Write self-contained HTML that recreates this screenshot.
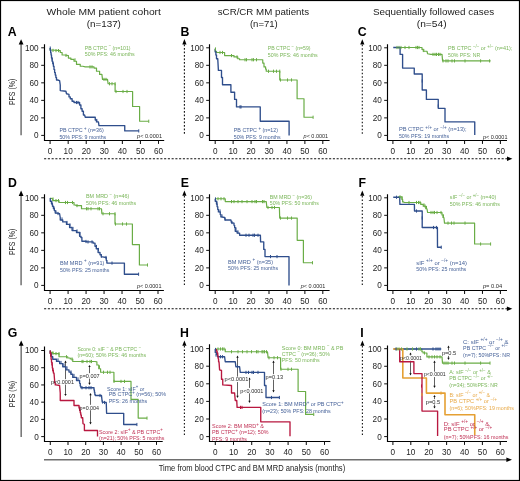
<!DOCTYPE html>
<html><head><meta charset="utf-8"><style>
html,body{margin:0;padding:0;background:#fff;}
svg{display:block;font-family:"Liberation Sans", sans-serif;will-change:transform;}
</style></head><body>
<svg width="520" height="481" viewBox="0 0 520 481">
<rect x="0.5" y="0.5" width="519" height="480" fill="#fff" stroke="#000" stroke-width="1.2"/>
<text x="103.7" y="15.1" font-size="9.5" fill="#222" text-anchor="middle" textLength="114.4" lengthAdjust="spacingAndGlyphs">Whole MM patient cohort</text>
<text x="103.8" y="27" font-size="9.5" fill="#222" text-anchor="middle" textLength="34.2" lengthAdjust="spacingAndGlyphs">(n=137)</text>
<text x="263.4" y="15.1" font-size="9.5" fill="#222" text-anchor="middle" textLength="91.3" lengthAdjust="spacingAndGlyphs">sCR/CR MM patients</text>
<text x="263.85" y="27" font-size="9.5" fill="#222" text-anchor="middle" textLength="27.9" lengthAdjust="spacingAndGlyphs">(n=71)</text>
<text x="433.5" y="15.1" font-size="9.5" fill="#222" text-anchor="middle" textLength="121.2" lengthAdjust="spacingAndGlyphs">Sequentially followed cases</text>
<text x="431.7" y="27" font-size="9.5" fill="#222" text-anchor="middle" textLength="29.8" lengthAdjust="spacingAndGlyphs">(n=54)</text>
<text x="7.8" y="35.8" font-size="12.3" fill="#000" font-weight="bold">A</text>
<text x="180.39" y="35.8" font-size="12.3" fill="#000" font-weight="bold">B</text>
<text x="357.8" y="36.2" font-size="12.3" fill="#000" font-weight="bold">C</text>
<text x="7.89" y="186.9" font-size="12.3" fill="#000" font-weight="bold">D</text>
<text x="180.69" y="186.9" font-size="12.3" fill="#000" font-weight="bold">E</text>
<text x="358.39" y="186.9" font-size="12.3" fill="#000" font-weight="bold">F</text>
<text x="7.8" y="337" font-size="12.3" fill="#000" font-weight="bold">G</text>
<text x="179.99" y="336.8" font-size="12.3" fill="#000" font-weight="bold">H</text>
<text x="360.19" y="336.6" font-size="12.3" fill="#000" font-weight="bold">I</text>
<line x1="21.1" y1="43.2" x2="21.1" y2="135.2" stroke="#7a7a7a" stroke-width="1.6"/>
<path d="M21.1,39.2 L18.7,44.6 L23.5,44.6 Z" fill="#000"/>
<line x1="21.1" y1="194.6" x2="21.1" y2="285.2" stroke="#7a7a7a" stroke-width="1.6"/>
<path d="M21.1,190.6 L18.7,196 L23.5,196 Z" fill="#000"/>
<line x1="21.2" y1="344.4" x2="21.2" y2="437" stroke="#7a7a7a" stroke-width="1.6"/>
<path d="M21.2,340.4 L18.8,345.8 L23.6,345.8 Z" fill="#000"/>
<line x1="184.4" y1="44.6" x2="184.4" y2="135.5" stroke="#111" stroke-width="1.1" stroke-dasharray="1.6 1.9"/>
<path d="M184.4,39.1 L182.3,44.5 L186.5,44.5 Z" fill="#000"/>
<line x1="184.4" y1="195.9" x2="184.4" y2="285.5" stroke="#111" stroke-width="1.1" stroke-dasharray="1.6 1.9"/>
<path d="M184.4,190.4 L182.3,195.8 L186.5,195.8 Z" fill="#000"/>
<line x1="184.4" y1="345.9" x2="184.4" y2="437" stroke="#111" stroke-width="1.1" stroke-dasharray="1.6 1.9"/>
<path d="M184.4,340.4 L182.3,345.8 L186.5,345.8 Z" fill="#000"/>
<line x1="362.3" y1="44.7" x2="362.3" y2="135.5" stroke="#111" stroke-width="1.1" stroke-dasharray="1.6 1.9"/>
<path d="M362.3,39.2 L360.2,44.6 L364.4,44.6 Z" fill="#000"/>
<line x1="362.3" y1="195.9" x2="362.3" y2="285.5" stroke="#111" stroke-width="1.1" stroke-dasharray="1.6 1.9"/>
<path d="M362.3,190.4 L360.2,195.8 L364.4,195.8 Z" fill="#000"/>
<line x1="362.4" y1="345.9" x2="362.4" y2="437" stroke="#111" stroke-width="1.1" stroke-dasharray="1.6 1.9"/>
<path d="M362.4,340.4 L360.3,345.8 L364.5,345.8 Z" fill="#000"/>
<text x="0" y="0" font-size="9.6" fill="#1e1e1e" text-anchor="middle" textLength="26.3" lengthAdjust="spacingAndGlyphs" transform="translate(15.4,91.9) rotate(-90)">PFS (%)</text>
<text x="0" y="0" font-size="9.6" fill="#1e1e1e" text-anchor="middle" textLength="26.3" lengthAdjust="spacingAndGlyphs" transform="translate(15.4,241.9) rotate(-90)">PFS (%)</text>
<text x="0" y="0" font-size="9.6" fill="#1e1e1e" text-anchor="middle" textLength="26.3" lengthAdjust="spacingAndGlyphs" transform="translate(15.4,394) rotate(-90)">PFS (%)</text>
<line x1="44.1" y1="158.75" x2="507.4" y2="158.75" stroke="#111" stroke-width="1.1" stroke-dasharray="2.1 1.65"/>
<path d="M512.4,158.75 L507,156.55 L507,160.95 Z" fill="#000"/>
<line x1="44.1" y1="308.7" x2="507.3" y2="308.7" stroke="#111" stroke-width="1.1" stroke-dasharray="2.1 1.65"/>
<path d="M512.3,308.7 L506.9,306.5 L506.9,310.9 Z" fill="#000"/>
<line x1="44" y1="459.8" x2="507" y2="459.8" stroke="#6e6e6e" stroke-width="1.6"/>
<path d="M512,459.8 L506.4,457.5 L506.4,462.1 Z" fill="#000"/>
<text x="158.7" y="471.3" font-size="9.3" fill="#222" textLength="186.5" lengthAdjust="spacingAndGlyphs">Time from blood CTPC and BM MRD analysis (months)</text>
<path d="M44.5,44.2 V140.5 H164.2" fill="none" stroke="#000" stroke-width="1.15"/>
<line x1="41.2" y1="135.4" x2="44.5" y2="135.4" stroke="#111" stroke-width="1"/>
<text x="38.6" y="138.3" font-size="8.2" fill="#1e1e1e" text-anchor="end">0</text>
<line x1="41.2" y1="117.88" x2="44.5" y2="117.88" stroke="#111" stroke-width="1"/>
<text x="38.6" y="120.78" font-size="8.2" fill="#1e1e1e" text-anchor="end">20</text>
<line x1="41.2" y1="100.36" x2="44.5" y2="100.36" stroke="#111" stroke-width="1"/>
<text x="38.6" y="103.26" font-size="8.2" fill="#1e1e1e" text-anchor="end">40</text>
<line x1="41.2" y1="82.84" x2="44.5" y2="82.84" stroke="#111" stroke-width="1"/>
<text x="38.6" y="85.74" font-size="8.2" fill="#1e1e1e" text-anchor="end">60</text>
<line x1="41.2" y1="65.32" x2="44.5" y2="65.32" stroke="#111" stroke-width="1"/>
<text x="38.6" y="68.22" font-size="8.2" fill="#1e1e1e" text-anchor="end">80</text>
<line x1="41.2" y1="47.8" x2="44.5" y2="47.8" stroke="#111" stroke-width="1"/>
<text x="38.6" y="50.7" font-size="8.2" fill="#1e1e1e" text-anchor="end">100</text>
<line x1="50.1" y1="140.5" x2="50.1" y2="143.9" stroke="#111" stroke-width="1.05"/>
<text x="50.1" y="153.9" font-size="8.2" fill="#1e1e1e" text-anchor="middle">0</text>
<line x1="68.17" y1="140.5" x2="68.17" y2="143.9" stroke="#111" stroke-width="1.05"/>
<text x="68.17" y="153.9" font-size="8.2" fill="#1e1e1e" text-anchor="middle">10</text>
<line x1="86.23" y1="140.5" x2="86.23" y2="143.9" stroke="#111" stroke-width="1.05"/>
<text x="86.23" y="153.9" font-size="8.2" fill="#1e1e1e" text-anchor="middle">20</text>
<line x1="104.3" y1="140.5" x2="104.3" y2="143.9" stroke="#111" stroke-width="1.05"/>
<text x="104.3" y="153.9" font-size="8.2" fill="#1e1e1e" text-anchor="middle">30</text>
<line x1="122.37" y1="140.5" x2="122.37" y2="143.9" stroke="#111" stroke-width="1.05"/>
<text x="122.37" y="153.9" font-size="8.2" fill="#1e1e1e" text-anchor="middle">40</text>
<line x1="140.43" y1="140.5" x2="140.43" y2="143.9" stroke="#111" stroke-width="1.05"/>
<text x="140.43" y="153.9" font-size="8.2" fill="#1e1e1e" text-anchor="middle">50</text>
<line x1="158.5" y1="140.5" x2="158.5" y2="143.9" stroke="#111" stroke-width="1.05"/>
<text x="158.5" y="153.9" font-size="8.2" fill="#1e1e1e" text-anchor="middle">60</text>
<path d="M209.5,44.2 V140.5 H329.6" fill="none" stroke="#000" stroke-width="1.15"/>
<line x1="206.2" y1="135.4" x2="209.5" y2="135.4" stroke="#111" stroke-width="1"/>
<text x="203.8" y="138.3" font-size="8.2" fill="#1e1e1e" text-anchor="end">0</text>
<line x1="206.2" y1="117.88" x2="209.5" y2="117.88" stroke="#111" stroke-width="1"/>
<text x="203.8" y="120.78" font-size="8.2" fill="#1e1e1e" text-anchor="end">20</text>
<line x1="206.2" y1="100.36" x2="209.5" y2="100.36" stroke="#111" stroke-width="1"/>
<text x="203.8" y="103.26" font-size="8.2" fill="#1e1e1e" text-anchor="end">40</text>
<line x1="206.2" y1="82.84" x2="209.5" y2="82.84" stroke="#111" stroke-width="1"/>
<text x="203.8" y="85.74" font-size="8.2" fill="#1e1e1e" text-anchor="end">60</text>
<line x1="206.2" y1="65.32" x2="209.5" y2="65.32" stroke="#111" stroke-width="1"/>
<text x="203.8" y="68.22" font-size="8.2" fill="#1e1e1e" text-anchor="end">80</text>
<line x1="206.2" y1="47.8" x2="209.5" y2="47.8" stroke="#111" stroke-width="1"/>
<text x="203.8" y="50.7" font-size="8.2" fill="#1e1e1e" text-anchor="end">100</text>
<line x1="215.2" y1="140.5" x2="215.2" y2="143.9" stroke="#111" stroke-width="1.05"/>
<text x="215.2" y="153.9" font-size="8.2" fill="#1e1e1e" text-anchor="middle">0</text>
<line x1="233.13" y1="140.5" x2="233.13" y2="143.9" stroke="#111" stroke-width="1.05"/>
<text x="233.13" y="153.9" font-size="8.2" fill="#1e1e1e" text-anchor="middle">10</text>
<line x1="251.07" y1="140.5" x2="251.07" y2="143.9" stroke="#111" stroke-width="1.05"/>
<text x="251.07" y="153.9" font-size="8.2" fill="#1e1e1e" text-anchor="middle">20</text>
<line x1="269" y1="140.5" x2="269" y2="143.9" stroke="#111" stroke-width="1.05"/>
<text x="269" y="153.9" font-size="8.2" fill="#1e1e1e" text-anchor="middle">30</text>
<line x1="286.93" y1="140.5" x2="286.93" y2="143.9" stroke="#111" stroke-width="1.05"/>
<text x="286.93" y="153.9" font-size="8.2" fill="#1e1e1e" text-anchor="middle">40</text>
<line x1="304.87" y1="140.5" x2="304.87" y2="143.9" stroke="#111" stroke-width="1.05"/>
<text x="304.87" y="153.9" font-size="8.2" fill="#1e1e1e" text-anchor="middle">50</text>
<line x1="322.8" y1="140.5" x2="322.8" y2="143.9" stroke="#111" stroke-width="1.05"/>
<text x="322.8" y="153.9" font-size="8.2" fill="#1e1e1e" text-anchor="middle">60</text>
<path d="M387.5,44.2 V140.5 H507" fill="none" stroke="#000" stroke-width="1.15"/>
<line x1="384.2" y1="135.4" x2="387.5" y2="135.4" stroke="#111" stroke-width="1"/>
<text x="381.9" y="138.3" font-size="8.2" fill="#1e1e1e" text-anchor="end">0</text>
<line x1="384.2" y1="117.88" x2="387.5" y2="117.88" stroke="#111" stroke-width="1"/>
<text x="381.9" y="120.78" font-size="8.2" fill="#1e1e1e" text-anchor="end">20</text>
<line x1="384.2" y1="100.36" x2="387.5" y2="100.36" stroke="#111" stroke-width="1"/>
<text x="381.9" y="103.26" font-size="8.2" fill="#1e1e1e" text-anchor="end">40</text>
<line x1="384.2" y1="82.84" x2="387.5" y2="82.84" stroke="#111" stroke-width="1"/>
<text x="381.9" y="85.74" font-size="8.2" fill="#1e1e1e" text-anchor="end">60</text>
<line x1="384.2" y1="65.32" x2="387.5" y2="65.32" stroke="#111" stroke-width="1"/>
<text x="381.9" y="68.22" font-size="8.2" fill="#1e1e1e" text-anchor="end">80</text>
<line x1="384.2" y1="47.8" x2="387.5" y2="47.8" stroke="#111" stroke-width="1"/>
<text x="381.9" y="50.7" font-size="8.2" fill="#1e1e1e" text-anchor="end">100</text>
<line x1="392.9" y1="140.5" x2="392.9" y2="143.9" stroke="#111" stroke-width="1.05"/>
<text x="392.9" y="153.9" font-size="8.2" fill="#1e1e1e" text-anchor="middle">0</text>
<line x1="410.82" y1="140.5" x2="410.82" y2="143.9" stroke="#111" stroke-width="1.05"/>
<text x="410.82" y="153.9" font-size="8.2" fill="#1e1e1e" text-anchor="middle">10</text>
<line x1="428.73" y1="140.5" x2="428.73" y2="143.9" stroke="#111" stroke-width="1.05"/>
<text x="428.73" y="153.9" font-size="8.2" fill="#1e1e1e" text-anchor="middle">20</text>
<line x1="446.65" y1="140.5" x2="446.65" y2="143.9" stroke="#111" stroke-width="1.05"/>
<text x="446.65" y="153.9" font-size="8.2" fill="#1e1e1e" text-anchor="middle">30</text>
<line x1="464.57" y1="140.5" x2="464.57" y2="143.9" stroke="#111" stroke-width="1.05"/>
<text x="464.57" y="153.9" font-size="8.2" fill="#1e1e1e" text-anchor="middle">40</text>
<line x1="482.48" y1="140.5" x2="482.48" y2="143.9" stroke="#111" stroke-width="1.05"/>
<text x="482.48" y="153.9" font-size="8.2" fill="#1e1e1e" text-anchor="middle">50</text>
<line x1="500.4" y1="140.5" x2="500.4" y2="143.9" stroke="#111" stroke-width="1.05"/>
<text x="500.4" y="153.9" font-size="8.2" fill="#1e1e1e" text-anchor="middle">60</text>
<path d="M44.5,194.2 V290.5 H163.9" fill="none" stroke="#000" stroke-width="1.15"/>
<line x1="41.2" y1="285.4" x2="44.5" y2="285.4" stroke="#111" stroke-width="1"/>
<text x="38.6" y="288.3" font-size="8.2" fill="#1e1e1e" text-anchor="end">0</text>
<line x1="41.2" y1="267.88" x2="44.5" y2="267.88" stroke="#111" stroke-width="1"/>
<text x="38.6" y="270.78" font-size="8.2" fill="#1e1e1e" text-anchor="end">20</text>
<line x1="41.2" y1="250.36" x2="44.5" y2="250.36" stroke="#111" stroke-width="1"/>
<text x="38.6" y="253.26" font-size="8.2" fill="#1e1e1e" text-anchor="end">40</text>
<line x1="41.2" y1="232.84" x2="44.5" y2="232.84" stroke="#111" stroke-width="1"/>
<text x="38.6" y="235.74" font-size="8.2" fill="#1e1e1e" text-anchor="end">60</text>
<line x1="41.2" y1="215.32" x2="44.5" y2="215.32" stroke="#111" stroke-width="1"/>
<text x="38.6" y="218.22" font-size="8.2" fill="#1e1e1e" text-anchor="end">80</text>
<line x1="41.2" y1="197.8" x2="44.5" y2="197.8" stroke="#111" stroke-width="1"/>
<text x="38.6" y="200.7" font-size="8.2" fill="#1e1e1e" text-anchor="end">100</text>
<line x1="50.1" y1="290.5" x2="50.1" y2="293.9" stroke="#111" stroke-width="1.05"/>
<text x="50.1" y="304" font-size="8.2" fill="#1e1e1e" text-anchor="middle">0</text>
<line x1="68.08" y1="290.5" x2="68.08" y2="293.9" stroke="#111" stroke-width="1.05"/>
<text x="68.08" y="304" font-size="8.2" fill="#1e1e1e" text-anchor="middle">10</text>
<line x1="86.07" y1="290.5" x2="86.07" y2="293.9" stroke="#111" stroke-width="1.05"/>
<text x="86.07" y="304" font-size="8.2" fill="#1e1e1e" text-anchor="middle">20</text>
<line x1="104.05" y1="290.5" x2="104.05" y2="293.9" stroke="#111" stroke-width="1.05"/>
<text x="104.05" y="304" font-size="8.2" fill="#1e1e1e" text-anchor="middle">30</text>
<line x1="122.03" y1="290.5" x2="122.03" y2="293.9" stroke="#111" stroke-width="1.05"/>
<text x="122.03" y="304" font-size="8.2" fill="#1e1e1e" text-anchor="middle">40</text>
<line x1="140.02" y1="290.5" x2="140.02" y2="293.9" stroke="#111" stroke-width="1.05"/>
<text x="140.02" y="304" font-size="8.2" fill="#1e1e1e" text-anchor="middle">50</text>
<line x1="158" y1="290.5" x2="158" y2="293.9" stroke="#111" stroke-width="1.05"/>
<text x="158" y="304" font-size="8.2" fill="#1e1e1e" text-anchor="middle">60</text>
<path d="M209.5,194.2 V290.5 H329.6" fill="none" stroke="#000" stroke-width="1.15"/>
<line x1="206.2" y1="285.4" x2="209.5" y2="285.4" stroke="#111" stroke-width="1"/>
<text x="203.8" y="288.3" font-size="8.2" fill="#1e1e1e" text-anchor="end">0</text>
<line x1="206.2" y1="267.88" x2="209.5" y2="267.88" stroke="#111" stroke-width="1"/>
<text x="203.8" y="270.78" font-size="8.2" fill="#1e1e1e" text-anchor="end">20</text>
<line x1="206.2" y1="250.36" x2="209.5" y2="250.36" stroke="#111" stroke-width="1"/>
<text x="203.8" y="253.26" font-size="8.2" fill="#1e1e1e" text-anchor="end">40</text>
<line x1="206.2" y1="232.84" x2="209.5" y2="232.84" stroke="#111" stroke-width="1"/>
<text x="203.8" y="235.74" font-size="8.2" fill="#1e1e1e" text-anchor="end">60</text>
<line x1="206.2" y1="215.32" x2="209.5" y2="215.32" stroke="#111" stroke-width="1"/>
<text x="203.8" y="218.22" font-size="8.2" fill="#1e1e1e" text-anchor="end">80</text>
<line x1="206.2" y1="197.8" x2="209.5" y2="197.8" stroke="#111" stroke-width="1"/>
<text x="203.8" y="200.7" font-size="8.2" fill="#1e1e1e" text-anchor="end">100</text>
<line x1="215.2" y1="290.5" x2="215.2" y2="293.9" stroke="#111" stroke-width="1.05"/>
<text x="215.2" y="304" font-size="8.2" fill="#1e1e1e" text-anchor="middle">0</text>
<line x1="233.13" y1="290.5" x2="233.13" y2="293.9" stroke="#111" stroke-width="1.05"/>
<text x="233.13" y="304" font-size="8.2" fill="#1e1e1e" text-anchor="middle">10</text>
<line x1="251.07" y1="290.5" x2="251.07" y2="293.9" stroke="#111" stroke-width="1.05"/>
<text x="251.07" y="304" font-size="8.2" fill="#1e1e1e" text-anchor="middle">20</text>
<line x1="269" y1="290.5" x2="269" y2="293.9" stroke="#111" stroke-width="1.05"/>
<text x="269" y="304" font-size="8.2" fill="#1e1e1e" text-anchor="middle">30</text>
<line x1="286.93" y1="290.5" x2="286.93" y2="293.9" stroke="#111" stroke-width="1.05"/>
<text x="286.93" y="304" font-size="8.2" fill="#1e1e1e" text-anchor="middle">40</text>
<line x1="304.87" y1="290.5" x2="304.87" y2="293.9" stroke="#111" stroke-width="1.05"/>
<text x="304.87" y="304" font-size="8.2" fill="#1e1e1e" text-anchor="middle">50</text>
<line x1="322.8" y1="290.5" x2="322.8" y2="293.9" stroke="#111" stroke-width="1.05"/>
<text x="322.8" y="304" font-size="8.2" fill="#1e1e1e" text-anchor="middle">60</text>
<path d="M387.5,194.2 V290.5 H507" fill="none" stroke="#000" stroke-width="1.15"/>
<line x1="384.2" y1="285.4" x2="387.5" y2="285.4" stroke="#111" stroke-width="1"/>
<text x="381.9" y="288.3" font-size="8.2" fill="#1e1e1e" text-anchor="end">0</text>
<line x1="384.2" y1="267.88" x2="387.5" y2="267.88" stroke="#111" stroke-width="1"/>
<text x="381.9" y="270.78" font-size="8.2" fill="#1e1e1e" text-anchor="end">20</text>
<line x1="384.2" y1="250.36" x2="387.5" y2="250.36" stroke="#111" stroke-width="1"/>
<text x="381.9" y="253.26" font-size="8.2" fill="#1e1e1e" text-anchor="end">40</text>
<line x1="384.2" y1="232.84" x2="387.5" y2="232.84" stroke="#111" stroke-width="1"/>
<text x="381.9" y="235.74" font-size="8.2" fill="#1e1e1e" text-anchor="end">60</text>
<line x1="384.2" y1="215.32" x2="387.5" y2="215.32" stroke="#111" stroke-width="1"/>
<text x="381.9" y="218.22" font-size="8.2" fill="#1e1e1e" text-anchor="end">80</text>
<line x1="384.2" y1="197.8" x2="387.5" y2="197.8" stroke="#111" stroke-width="1"/>
<text x="381.9" y="200.7" font-size="8.2" fill="#1e1e1e" text-anchor="end">100</text>
<line x1="392.9" y1="290.5" x2="392.9" y2="293.9" stroke="#111" stroke-width="1.05"/>
<text x="392.9" y="304" font-size="8.2" fill="#1e1e1e" text-anchor="middle">0</text>
<line x1="410.82" y1="290.5" x2="410.82" y2="293.9" stroke="#111" stroke-width="1.05"/>
<text x="410.82" y="304" font-size="8.2" fill="#1e1e1e" text-anchor="middle">10</text>
<line x1="428.73" y1="290.5" x2="428.73" y2="293.9" stroke="#111" stroke-width="1.05"/>
<text x="428.73" y="304" font-size="8.2" fill="#1e1e1e" text-anchor="middle">20</text>
<line x1="446.65" y1="290.5" x2="446.65" y2="293.9" stroke="#111" stroke-width="1.05"/>
<text x="446.65" y="304" font-size="8.2" fill="#1e1e1e" text-anchor="middle">30</text>
<line x1="464.57" y1="290.5" x2="464.57" y2="293.9" stroke="#111" stroke-width="1.05"/>
<text x="464.57" y="304" font-size="8.2" fill="#1e1e1e" text-anchor="middle">40</text>
<line x1="482.48" y1="290.5" x2="482.48" y2="293.9" stroke="#111" stroke-width="1.05"/>
<text x="482.48" y="304" font-size="8.2" fill="#1e1e1e" text-anchor="middle">50</text>
<line x1="500.4" y1="290.5" x2="500.4" y2="293.9" stroke="#111" stroke-width="1.05"/>
<text x="500.4" y="304" font-size="8.2" fill="#1e1e1e" text-anchor="middle">60</text>
<path d="M44.5,346.6 V441.5 H162.7" fill="none" stroke="#000" stroke-width="1.15"/>
<line x1="41.2" y1="436.6" x2="44.5" y2="436.6" stroke="#111" stroke-width="1"/>
<text x="38.7" y="439.5" font-size="8.2" fill="#1e1e1e" text-anchor="end">0</text>
<line x1="41.2" y1="419.38" x2="44.5" y2="419.38" stroke="#111" stroke-width="1"/>
<text x="38.7" y="422.28" font-size="8.2" fill="#1e1e1e" text-anchor="end">20</text>
<line x1="41.2" y1="402.16" x2="44.5" y2="402.16" stroke="#111" stroke-width="1"/>
<text x="38.7" y="405.06" font-size="8.2" fill="#1e1e1e" text-anchor="end">40</text>
<line x1="41.2" y1="384.94" x2="44.5" y2="384.94" stroke="#111" stroke-width="1"/>
<text x="38.7" y="387.84" font-size="8.2" fill="#1e1e1e" text-anchor="end">60</text>
<line x1="41.2" y1="367.72" x2="44.5" y2="367.72" stroke="#111" stroke-width="1"/>
<text x="38.7" y="370.62" font-size="8.2" fill="#1e1e1e" text-anchor="end">80</text>
<line x1="41.2" y1="350.5" x2="44.5" y2="350.5" stroke="#111" stroke-width="1"/>
<text x="38.7" y="353.4" font-size="8.2" fill="#1e1e1e" text-anchor="end">100</text>
<line x1="50.3" y1="441.5" x2="50.3" y2="444.9" stroke="#111" stroke-width="1.05"/>
<text x="50.3" y="455.2" font-size="8.2" fill="#1e1e1e" text-anchor="middle">0</text>
<line x1="68" y1="441.5" x2="68" y2="444.9" stroke="#111" stroke-width="1.05"/>
<text x="68" y="455.2" font-size="8.2" fill="#1e1e1e" text-anchor="middle">10</text>
<line x1="85.7" y1="441.5" x2="85.7" y2="444.9" stroke="#111" stroke-width="1.05"/>
<text x="85.7" y="455.2" font-size="8.2" fill="#1e1e1e" text-anchor="middle">20</text>
<line x1="103.4" y1="441.5" x2="103.4" y2="444.9" stroke="#111" stroke-width="1.05"/>
<text x="103.4" y="455.2" font-size="8.2" fill="#1e1e1e" text-anchor="middle">30</text>
<line x1="121.1" y1="441.5" x2="121.1" y2="444.9" stroke="#111" stroke-width="1.05"/>
<text x="121.1" y="455.2" font-size="8.2" fill="#1e1e1e" text-anchor="middle">40</text>
<line x1="138.8" y1="441.5" x2="138.8" y2="444.9" stroke="#111" stroke-width="1.05"/>
<text x="138.8" y="455.2" font-size="8.2" fill="#1e1e1e" text-anchor="middle">50</text>
<line x1="156.5" y1="441.5" x2="156.5" y2="444.9" stroke="#111" stroke-width="1.05"/>
<text x="156.5" y="455.2" font-size="8.2" fill="#1e1e1e" text-anchor="middle">60</text>
<path d="M209.5,344.3 V441.5 H330.4" fill="none" stroke="#000" stroke-width="1.15"/>
<line x1="206.2" y1="436.6" x2="209.5" y2="436.6" stroke="#111" stroke-width="1"/>
<text x="203.7" y="439.5" font-size="8.2" fill="#1e1e1e" text-anchor="end">0</text>
<line x1="206.2" y1="419" x2="209.5" y2="419" stroke="#111" stroke-width="1"/>
<text x="203.7" y="421.9" font-size="8.2" fill="#1e1e1e" text-anchor="end">20</text>
<line x1="206.2" y1="401.4" x2="209.5" y2="401.4" stroke="#111" stroke-width="1"/>
<text x="203.7" y="404.3" font-size="8.2" fill="#1e1e1e" text-anchor="end">40</text>
<line x1="206.2" y1="383.8" x2="209.5" y2="383.8" stroke="#111" stroke-width="1"/>
<text x="203.7" y="386.7" font-size="8.2" fill="#1e1e1e" text-anchor="end">60</text>
<line x1="206.2" y1="366.2" x2="209.5" y2="366.2" stroke="#111" stroke-width="1"/>
<text x="203.7" y="369.1" font-size="8.2" fill="#1e1e1e" text-anchor="end">80</text>
<line x1="206.2" y1="348.6" x2="209.5" y2="348.6" stroke="#111" stroke-width="1"/>
<text x="203.7" y="351.5" font-size="8.2" fill="#1e1e1e" text-anchor="end">100</text>
<line x1="215.3" y1="441.5" x2="215.3" y2="444.9" stroke="#111" stroke-width="1.05"/>
<text x="215.3" y="455.2" font-size="8.2" fill="#1e1e1e" text-anchor="middle">0</text>
<line x1="233.5" y1="441.5" x2="233.5" y2="444.9" stroke="#111" stroke-width="1.05"/>
<text x="233.5" y="455.2" font-size="8.2" fill="#1e1e1e" text-anchor="middle">10</text>
<line x1="251.7" y1="441.5" x2="251.7" y2="444.9" stroke="#111" stroke-width="1.05"/>
<text x="251.7" y="455.2" font-size="8.2" fill="#1e1e1e" text-anchor="middle">20</text>
<line x1="269.9" y1="441.5" x2="269.9" y2="444.9" stroke="#111" stroke-width="1.05"/>
<text x="269.9" y="455.2" font-size="8.2" fill="#1e1e1e" text-anchor="middle">30</text>
<line x1="288.1" y1="441.5" x2="288.1" y2="444.9" stroke="#111" stroke-width="1.05"/>
<text x="288.1" y="455.2" font-size="8.2" fill="#1e1e1e" text-anchor="middle">40</text>
<line x1="306.3" y1="441.5" x2="306.3" y2="444.9" stroke="#111" stroke-width="1.05"/>
<text x="306.3" y="455.2" font-size="8.2" fill="#1e1e1e" text-anchor="middle">50</text>
<line x1="324.5" y1="441.5" x2="324.5" y2="444.9" stroke="#111" stroke-width="1.05"/>
<text x="324.5" y="455.2" font-size="8.2" fill="#1e1e1e" text-anchor="middle">60</text>
<path d="M387.5,345.4 V441.5 H507" fill="none" stroke="#000" stroke-width="1.15"/>
<line x1="384.2" y1="436.6" x2="387.5" y2="436.6" stroke="#111" stroke-width="1"/>
<text x="381.7" y="439.5" font-size="8.2" fill="#1e1e1e" text-anchor="end">0</text>
<line x1="384.2" y1="419.02" x2="387.5" y2="419.02" stroke="#111" stroke-width="1"/>
<text x="381.7" y="421.92" font-size="8.2" fill="#1e1e1e" text-anchor="end">20</text>
<line x1="384.2" y1="401.44" x2="387.5" y2="401.44" stroke="#111" stroke-width="1"/>
<text x="381.7" y="404.34" font-size="8.2" fill="#1e1e1e" text-anchor="end">40</text>
<line x1="384.2" y1="383.86" x2="387.5" y2="383.86" stroke="#111" stroke-width="1"/>
<text x="381.7" y="386.76" font-size="8.2" fill="#1e1e1e" text-anchor="end">60</text>
<line x1="384.2" y1="366.28" x2="387.5" y2="366.28" stroke="#111" stroke-width="1"/>
<text x="381.7" y="369.18" font-size="8.2" fill="#1e1e1e" text-anchor="end">80</text>
<line x1="384.2" y1="348.7" x2="387.5" y2="348.7" stroke="#111" stroke-width="1"/>
<text x="381.7" y="351.6" font-size="8.2" fill="#1e1e1e" text-anchor="end">100</text>
<line x1="392.9" y1="441.5" x2="392.9" y2="444.9" stroke="#111" stroke-width="1.05"/>
<text x="392.9" y="455.1" font-size="8.2" fill="#1e1e1e" text-anchor="middle">0</text>
<line x1="410.8" y1="441.5" x2="410.8" y2="444.9" stroke="#111" stroke-width="1.05"/>
<text x="410.8" y="455.1" font-size="8.2" fill="#1e1e1e" text-anchor="middle">10</text>
<line x1="428.7" y1="441.5" x2="428.7" y2="444.9" stroke="#111" stroke-width="1.05"/>
<text x="428.7" y="455.1" font-size="8.2" fill="#1e1e1e" text-anchor="middle">20</text>
<line x1="446.6" y1="441.5" x2="446.6" y2="444.9" stroke="#111" stroke-width="1.05"/>
<text x="446.6" y="455.1" font-size="8.2" fill="#1e1e1e" text-anchor="middle">30</text>
<line x1="464.5" y1="441.5" x2="464.5" y2="444.9" stroke="#111" stroke-width="1.05"/>
<text x="464.5" y="455.1" font-size="8.2" fill="#1e1e1e" text-anchor="middle">40</text>
<line x1="482.4" y1="441.5" x2="482.4" y2="444.9" stroke="#111" stroke-width="1.05"/>
<text x="482.4" y="455.1" font-size="8.2" fill="#1e1e1e" text-anchor="middle">50</text>
<line x1="500.3" y1="441.5" x2="500.3" y2="444.9" stroke="#111" stroke-width="1.05"/>
<text x="500.3" y="455.1" font-size="8.2" fill="#1e1e1e" text-anchor="middle">60</text>
<line x1="65.5" y1="362" x2="65.5" y2="394.6" stroke="#444" stroke-width="0.85"/>
<path d="M65.5,360.5 l-1.2,2.2 h2.4 Z M65.5,396.1 l-1.2,-2.2 h2.4 Z" fill="#111"/>
<line x1="89.5" y1="366.4" x2="89.5" y2="383.4" stroke="#444" stroke-width="0.85"/>
<path d="M89.5,364.9 l-1.2,2.2 h2.4 Z M89.5,384.9 l-1.2,-2.2 h2.4 Z" fill="#111"/>
<line x1="90.5" y1="394.5" x2="90.5" y2="423" stroke="#444" stroke-width="0.85"/>
<path d="M90.5,393 l-1.2,2.2 h2.4 Z M90.5,424.5 l-1.2,-2.2 h2.4 Z" fill="#111"/>
<line x1="237.5" y1="357" x2="237.5" y2="396.5" stroke="#444" stroke-width="0.85"/>
<path d="M237.5,355.5 l-1.2,2.2 h2.4 Z M237.5,398 l-1.2,-2.2 h2.4 Z" fill="#111"/>
<line x1="249.5" y1="378.9" x2="249.5" y2="401.5" stroke="#444" stroke-width="0.85"/>
<path d="M249.5,377.4 l-1.2,2.2 h2.4 Z M249.5,403 l-1.2,-2.2 h2.4 Z" fill="#111"/>
<line x1="273.5" y1="362" x2="273.5" y2="391" stroke="#444" stroke-width="0.85"/>
<path d="M273.5,360.5 l-1.2,2.2 h2.4 Z M273.5,392.5 l-1.2,-2.2 h2.4 Z" fill="#111"/>
<line x1="410.5" y1="353.9" x2="410.5" y2="374" stroke="#444" stroke-width="0.85"/>
<path d="M410.5,352.4 l-1.2,2.2 h2.4 Z M410.5,375.5 l-1.2,-2.2 h2.4 Z" fill="#111"/>
<line x1="434.5" y1="362" x2="434.5" y2="386.5" stroke="#444" stroke-width="0.85"/>
<path d="M434.5,360.5 l-1.2,2.2 h2.4 Z M434.5,388 l-1.2,-2.2 h2.4 Z" fill="#111"/>
<line x1="448.5" y1="347.1" x2="448.5" y2="358.5" stroke="#444" stroke-width="0.85"/>
<path d="M448.5,345.6 l-1.2,2.2 h2.4 Z M448.5,360 l-1.2,-2.2 h2.4 Z" fill="#111"/>
<line x1="434.5" y1="396.4" x2="434.5" y2="407.1" stroke="#444" stroke-width="0.85"/>
<path d="M434.5,394.9 l-1.2,2.2 h2.4 Z M434.5,408.6 l-1.2,-2.2 h2.4 Z" fill="#111"/>
<rect x="50.6" y="379.15" width="23.7" height="5.4" fill="#fff"/>
<rect x="79.3" y="373.15" width="20.6" height="5.4" fill="#fff"/>
<rect x="79.3" y="404.8" width="20" height="5.4" fill="#fff"/>
<rect x="224.3" y="376.65" width="24.4" height="5.4" fill="#fff"/>
<rect x="239.95" y="387.9" width="23.75" height="5.4" fill="#fff"/>
<rect x="265.3" y="374.15" width="18.1" height="5.4" fill="#fff"/>
<rect x="399.8" y="355.4" width="22.5" height="5.4" fill="#fff"/>
<rect x="423.6" y="371.65" width="22.45" height="5.4" fill="#fff"/>
<rect x="441.6" y="350.5" width="14.95" height="5.4" fill="#fff"/>
<rect x="425.45" y="399.15" width="14.95" height="5.4" fill="#fff"/>
<polyline points="50.25,48.1 50.25,50 51.5,50 60.25,50.6 60.25,52.5 62.1,52.5 62.1,55 64.6,55 68.4,55.6 68.4,58.1 70.9,58.1 70.9,59.4 74,59.4 74,61.25 76.5,61.25 76.5,64.4 80.25,64.4 80.25,66.25 82.75,66.25 85.25,66.9 94,66.9 94,68.1 96.5,68.1 96.5,71.25 99.6,71.25 99.6,74.4 101.9,74.4 102.5,79.4 107.5,79.4 108.1,83.75 115.1,83.75 115.1,91.5 132.6,91.5 132.6,106.5 139.6,106.5 139.6,121.25 148.75,121.25" fill="none" stroke="#6aad46" stroke-width="1.2" stroke-linejoin="round" stroke-linecap="butt"/>
<polyline points="50.25,48.1 50.25,50.4 50.67,50.4 50.67,52.7 51.08,52.7 51.08,55 51.5,55 51.5,58.12 52.12,58.12 52.12,61.25 52.75,61.25 52.75,63.75 53.38,63.75 53.38,66.25 54,66.25 54,69.38 54.62,69.38 54.62,72.5 55.25,72.5 55.25,75 55.88,75 55.88,77.5 56.5,77.5 56.5,80 57.75,80 59.6,80.6 60.25,85 60.25,90.6 65.9,91.25 66.5,93.75 69,94.4 69,96.9 70.25,96.9 70.25,98.75 72.1,98.75 72.1,101.25 74,101.25 74,102.5 75.9,102.5 79.6,102.5 79.6,105 80.9,105 80.9,108.75 82.1,108.75 82.1,111.25 83.4,111.25 83.4,115 84.6,115 85.25,117.25 95.25,117.25 95.25,120 96.5,120 96.5,121.9 98.4,121.9 99,125.6 124.75,125.6 124.75,130.9 138.75,130.9" fill="none" stroke="#2f4e8c" stroke-width="1.35" stroke-linejoin="round" stroke-linecap="butt"/>
<line x1="53" y1="48.8" x2="53" y2="52" stroke="#6aad46" stroke-width="1.0"/>
<line x1="56" y1="49" x2="56" y2="52.2" stroke="#6aad46" stroke-width="1.0"/>
<line x1="58.5" y1="49" x2="58.5" y2="52.2" stroke="#6aad46" stroke-width="1.0"/>
<line x1="66" y1="53.8" x2="66" y2="57" stroke="#6aad46" stroke-width="1.0"/>
<line x1="75" y1="58.3" x2="75" y2="61.5" stroke="#6aad46" stroke-width="1.0"/>
<line x1="90" y1="65.3" x2="90" y2="68.5" stroke="#6aad46" stroke-width="1.0"/>
<line x1="92" y1="65.3" x2="92" y2="68.5" stroke="#6aad46" stroke-width="1.0"/>
<line x1="104" y1="77.8" x2="104" y2="81" stroke="#6aad46" stroke-width="1.0"/>
<line x1="106" y1="77.8" x2="106" y2="81" stroke="#6aad46" stroke-width="1.0"/>
<line x1="109.5" y1="82.15" x2="109.5" y2="85.35" stroke="#6aad46" stroke-width="1.0"/>
<line x1="112" y1="82.15" x2="112" y2="85.35" stroke="#6aad46" stroke-width="1.0"/>
<line x1="115.1" y1="82.15" x2="115.1" y2="85.35" stroke="#6aad46" stroke-width="1.0"/>
<line x1="116" y1="89.9" x2="116" y2="93.1" stroke="#6aad46" stroke-width="1.0"/>
<line x1="123" y1="89.9" x2="123" y2="93.1" stroke="#6aad46" stroke-width="1.0"/>
<line x1="127" y1="89.9" x2="127" y2="93.1" stroke="#6aad46" stroke-width="1.0"/>
<line x1="148.75" y1="119.65" x2="148.75" y2="122.85" stroke="#6aad46" stroke-width="1.0"/>
<line x1="50.25" y1="46.5" x2="50.25" y2="49.7" stroke="#2f4e8c" stroke-width="1.0"/>
<line x1="52.2" y1="57.4" x2="52.2" y2="60.6" stroke="#2f4e8c" stroke-width="1.0"/>
<line x1="53.5" y1="62.4" x2="53.5" y2="65.6" stroke="#2f4e8c" stroke-width="1.0"/>
<line x1="76.5" y1="100.9" x2="76.5" y2="104.1" stroke="#2f4e8c" stroke-width="1.0"/>
<line x1="78" y1="100.9" x2="78" y2="104.1" stroke="#2f4e8c" stroke-width="1.0"/>
<line x1="96.8" y1="118.9" x2="96.8" y2="122.1" stroke="#2f4e8c" stroke-width="1.0"/>
<line x1="138.75" y1="129.3" x2="138.75" y2="132.5" stroke="#2f4e8c" stroke-width="1.0"/>
<polyline points="215.25,48.75 215.25,51.25 216.5,51.25 216.5,52.5 219,52.5 224.6,52.5 224.6,55.6 226.5,55.6 234,55.6 234,56.9 235.25,56.9 237.75,56.9 237.75,58.75 239.6,58.75 239.6,59.75 241.5,59.75 262.75,59.75 262.75,63.1 264,63.1 264,66.9 265.6,66.9 265.6,69.08 266.25,69.08 266.25,71.25 266.9,71.25 279.75,71.25 279.75,80 297.1,80 297.1,98.75 304,98.75 304,117.25 313.1,117.25" fill="none" stroke="#6aad46" stroke-width="1.2" stroke-linejoin="round" stroke-linecap="butt"/>
<polyline points="215.25,48.75 215.25,51.88 215.88,51.88 215.88,55 216.5,55 216.5,58.75 217.75,58.75 218.4,70.4 221.5,70.4 221.5,77.5 222.5,77.5 222.5,84.75 230.9,84.75 230.9,92.25 234.6,92.25 234.6,99.4 236.5,99.4 236.5,106.9 260.25,106.9 260.25,121.25 289.1,121.25 289.1,135.6" fill="none" stroke="#2f4e8c" stroke-width="1.35" stroke-linejoin="round" stroke-linecap="butt"/>
<line x1="215.5" y1="47.4" x2="215.5" y2="50.6" stroke="#6aad46" stroke-width="1.0"/>
<line x1="220" y1="50.9" x2="220" y2="54.1" stroke="#6aad46" stroke-width="1.0"/>
<line x1="222.5" y1="50.9" x2="222.5" y2="54.1" stroke="#6aad46" stroke-width="1.0"/>
<line x1="231.5" y1="54" x2="231.5" y2="57.2" stroke="#6aad46" stroke-width="1.0"/>
<line x1="237" y1="55.3" x2="237" y2="58.5" stroke="#6aad46" stroke-width="1.0"/>
<line x1="245" y1="58.15" x2="245" y2="61.35" stroke="#6aad46" stroke-width="1.0"/>
<line x1="246.5" y1="58.15" x2="246.5" y2="61.35" stroke="#6aad46" stroke-width="1.0"/>
<line x1="252" y1="58.15" x2="252" y2="61.35" stroke="#6aad46" stroke-width="1.0"/>
<line x1="253.5" y1="58.15" x2="253.5" y2="61.35" stroke="#6aad46" stroke-width="1.0"/>
<line x1="256.5" y1="58.15" x2="256.5" y2="61.35" stroke="#6aad46" stroke-width="1.0"/>
<line x1="268.5" y1="69.65" x2="268.5" y2="72.85" stroke="#6aad46" stroke-width="1.0"/>
<line x1="273.5" y1="69.65" x2="273.5" y2="72.85" stroke="#6aad46" stroke-width="1.0"/>
<line x1="276.5" y1="69.65" x2="276.5" y2="72.85" stroke="#6aad46" stroke-width="1.0"/>
<line x1="279.75" y1="69.65" x2="279.75" y2="72.85" stroke="#6aad46" stroke-width="1.0"/>
<line x1="280.5" y1="78.4" x2="280.5" y2="81.6" stroke="#6aad46" stroke-width="1.0"/>
<line x1="287.5" y1="78.4" x2="287.5" y2="81.6" stroke="#6aad46" stroke-width="1.0"/>
<line x1="291.5" y1="78.4" x2="291.5" y2="81.6" stroke="#6aad46" stroke-width="1.0"/>
<line x1="313.1" y1="115.65" x2="313.1" y2="118.85" stroke="#6aad46" stroke-width="1.0"/>
<line x1="240" y1="105.3" x2="240" y2="108.5" stroke="#2f4e8c" stroke-width="1.0"/>
<line x1="241" y1="105.3" x2="241" y2="108.5" stroke="#2f4e8c" stroke-width="1.0"/>
<polyline points="394,47.5 422,47.5 422,49.4 423.25,49.4 423.25,51.25 424.5,51.25 427,51.25 427.6,53.75 430.75,54.4 442,54.4 442.6,60.9 490.6,60.9" fill="none" stroke="#6aad46" stroke-width="1.2" stroke-linejoin="round" stroke-linecap="butt"/>
<polyline points="393.25,47.5 400.1,47.5 400.1,54.4 402.6,54.4 402.6,68.1 414.25,68.1 414.25,74 422.2,74 422.2,90 426.4,90 426.4,99.4 438.25,99.4 438.25,108.3 445,108.3 445,121.9 474.75,121.9 474.75,135" fill="none" stroke="#2f4e8c" stroke-width="1.35" stroke-linejoin="round" stroke-linecap="butt"/>
<line x1="397" y1="45.9" x2="397" y2="49.1" stroke="#6aad46" stroke-width="1.0"/>
<line x1="399" y1="45.9" x2="399" y2="49.1" stroke="#6aad46" stroke-width="1.0"/>
<line x1="401" y1="45.9" x2="401" y2="49.1" stroke="#6aad46" stroke-width="1.0"/>
<line x1="405" y1="45.9" x2="405" y2="49.1" stroke="#6aad46" stroke-width="1.0"/>
<line x1="409" y1="45.9" x2="409" y2="49.1" stroke="#6aad46" stroke-width="1.0"/>
<line x1="416" y1="45.9" x2="416" y2="49.1" stroke="#6aad46" stroke-width="1.0"/>
<line x1="417.5" y1="45.9" x2="417.5" y2="49.1" stroke="#6aad46" stroke-width="1.0"/>
<line x1="419" y1="45.9" x2="419" y2="49.1" stroke="#6aad46" stroke-width="1.0"/>
<line x1="423.8" y1="48.9" x2="423.8" y2="52.1" stroke="#6aad46" stroke-width="1.0"/>
<line x1="433" y1="52.8" x2="433" y2="56" stroke="#6aad46" stroke-width="1.0"/>
<line x1="435" y1="52.8" x2="435" y2="56" stroke="#6aad46" stroke-width="1.0"/>
<line x1="436.5" y1="52.8" x2="436.5" y2="56" stroke="#6aad46" stroke-width="1.0"/>
<line x1="438.5" y1="52.8" x2="438.5" y2="56" stroke="#6aad46" stroke-width="1.0"/>
<line x1="440" y1="52.8" x2="440" y2="56" stroke="#6aad46" stroke-width="1.0"/>
<line x1="443" y1="59.3" x2="443" y2="62.5" stroke="#6aad46" stroke-width="1.0"/>
<line x1="446" y1="59.3" x2="446" y2="62.5" stroke="#6aad46" stroke-width="1.0"/>
<line x1="448" y1="59.3" x2="448" y2="62.5" stroke="#6aad46" stroke-width="1.0"/>
<line x1="452" y1="59.3" x2="452" y2="62.5" stroke="#6aad46" stroke-width="1.0"/>
<line x1="454.5" y1="59.3" x2="454.5" y2="62.5" stroke="#6aad46" stroke-width="1.0"/>
<line x1="465" y1="59.3" x2="465" y2="62.5" stroke="#6aad46" stroke-width="1.0"/>
<line x1="480.6" y1="59.3" x2="480.6" y2="62.5" stroke="#6aad46" stroke-width="1.0"/>
<line x1="489.6" y1="59.3" x2="489.6" y2="62.5" stroke="#6aad46" stroke-width="1.0"/>
<line x1="422.2" y1="79.4" x2="422.2" y2="82.6" stroke="#2f4e8c" stroke-width="1.0"/>
<line x1="438.25" y1="104.4" x2="438.25" y2="107.6" stroke="#2f4e8c" stroke-width="1.0"/>
<polyline points="50.25,198.1 52.75,198.75 52.75,200.6 54,200.6 59,200.6 59,202.5 61.5,202.5 74,202.5 74,205 75.25,205 76.5,205.6 81.5,205.6 81.5,208.75 82.75,208.75 101.5,208.75 101.9,213.75 115,213.75 115,224 132.4,224 132.4,244.6 139.4,244.6 139.4,265 147.5,265" fill="none" stroke="#6aad46" stroke-width="1.2" stroke-linejoin="round" stroke-linecap="butt"/>
<polyline points="50.25,198.1 50.25,201.25 51.5,201.25 51.5,203.75 52.45,203.75 52.45,206.25 53.4,206.25 53.4,208.43 54.33,208.43 54.33,210.6 55.25,210.6 55.25,213.1 57.1,213.1 59.6,213.75 60.25,217.5 60.25,220 62.75,220 62.75,221.9 66.5,221.9 66.5,224.4 69.6,224.4 69.6,227.5 72.1,227.5 72.1,230.6 76.5,230.6 76.5,232.5 79.6,232.5 79.6,236.25 80.9,236.25 80.9,237.5 81.9,237.5 81.9,241.25 85,241.25 87.5,241.9 93.1,241.9 93.1,243.1 95,243.1 95,246.25 96.25,246.25 96.25,248.75 98.1,248.75 98.1,252.5 100,252.5 100,254.7 101.25,254.7 101.25,256.9 102.5,256.9 106.25,257.5 106.25,260.3 106.88,260.3 106.88,263.1 107.5,263.1 124.4,263.1 124.4,274.2 138.6,274.2" fill="none" stroke="#2f4e8c" stroke-width="1.35" stroke-linejoin="round" stroke-linecap="butt"/>
<line x1="53" y1="197.4" x2="53" y2="200.6" stroke="#6aad46" stroke-width="1.0"/>
<line x1="56" y1="199" x2="56" y2="202.2" stroke="#6aad46" stroke-width="1.0"/>
<line x1="58.5" y1="199" x2="58.5" y2="202.2" stroke="#6aad46" stroke-width="1.0"/>
<line x1="65.5" y1="200.9" x2="65.5" y2="204.1" stroke="#6aad46" stroke-width="1.0"/>
<line x1="67.5" y1="200.9" x2="67.5" y2="204.1" stroke="#6aad46" stroke-width="1.0"/>
<line x1="72.5" y1="200.9" x2="72.5" y2="204.1" stroke="#6aad46" stroke-width="1.0"/>
<line x1="77" y1="204" x2="77" y2="207.2" stroke="#6aad46" stroke-width="1.0"/>
<line x1="86.5" y1="207.15" x2="86.5" y2="210.35" stroke="#6aad46" stroke-width="1.0"/>
<line x1="88" y1="207.15" x2="88" y2="210.35" stroke="#6aad46" stroke-width="1.0"/>
<line x1="91" y1="207.15" x2="91" y2="210.35" stroke="#6aad46" stroke-width="1.0"/>
<line x1="98" y1="207.15" x2="98" y2="210.35" stroke="#6aad46" stroke-width="1.0"/>
<line x1="99.5" y1="207.15" x2="99.5" y2="210.35" stroke="#6aad46" stroke-width="1.0"/>
<line x1="103" y1="212.15" x2="103" y2="215.35" stroke="#6aad46" stroke-width="1.0"/>
<line x1="109.5" y1="212.15" x2="109.5" y2="215.35" stroke="#6aad46" stroke-width="1.0"/>
<line x1="115" y1="212.15" x2="115" y2="215.35" stroke="#6aad46" stroke-width="1.0"/>
<line x1="115.5" y1="222.4" x2="115.5" y2="225.6" stroke="#6aad46" stroke-width="1.0"/>
<line x1="122.5" y1="222.4" x2="122.5" y2="225.6" stroke="#6aad46" stroke-width="1.0"/>
<line x1="126.5" y1="222.4" x2="126.5" y2="225.6" stroke="#6aad46" stroke-width="1.0"/>
<line x1="147.5" y1="263.4" x2="147.5" y2="266.6" stroke="#6aad46" stroke-width="1.0"/>
<line x1="52" y1="201.4" x2="52" y2="204.6" stroke="#2f4e8c" stroke-width="1.0"/>
<line x1="54" y1="206.4" x2="54" y2="209.6" stroke="#2f4e8c" stroke-width="1.0"/>
<line x1="56" y1="210.4" x2="56" y2="213.6" stroke="#2f4e8c" stroke-width="1.0"/>
<line x1="58" y1="211.9" x2="58" y2="215.1" stroke="#2f4e8c" stroke-width="1.0"/>
<line x1="62" y1="217.4" x2="62" y2="220.6" stroke="#2f4e8c" stroke-width="1.0"/>
<line x1="67" y1="220.9" x2="67" y2="224.1" stroke="#2f4e8c" stroke-width="1.0"/>
<line x1="70" y1="223.4" x2="70" y2="226.6" stroke="#2f4e8c" stroke-width="1.0"/>
<line x1="73" y1="226.9" x2="73" y2="230.1" stroke="#2f4e8c" stroke-width="1.0"/>
<line x1="77" y1="229.4" x2="77" y2="232.6" stroke="#2f4e8c" stroke-width="1.0"/>
<line x1="80" y1="231.9" x2="80" y2="235.1" stroke="#2f4e8c" stroke-width="1.0"/>
<line x1="86" y1="239.9" x2="86" y2="243.1" stroke="#2f4e8c" stroke-width="1.0"/>
<line x1="88" y1="240.3" x2="88" y2="243.5" stroke="#2f4e8c" stroke-width="1.0"/>
<line x1="92" y1="240.3" x2="92" y2="243.5" stroke="#2f4e8c" stroke-width="1.0"/>
<line x1="96.5" y1="244.9" x2="96.5" y2="248.1" stroke="#2f4e8c" stroke-width="1.0"/>
<line x1="98.5" y1="247.9" x2="98.5" y2="251.1" stroke="#2f4e8c" stroke-width="1.0"/>
<line x1="101.5" y1="254.4" x2="101.5" y2="257.6" stroke="#2f4e8c" stroke-width="1.0"/>
<line x1="106" y1="255.9" x2="106" y2="259.1" stroke="#2f4e8c" stroke-width="1.0"/>
<line x1="112" y1="261.5" x2="112" y2="264.7" stroke="#2f4e8c" stroke-width="1.0"/>
<line x1="138.6" y1="272.6" x2="138.6" y2="275.8" stroke="#2f4e8c" stroke-width="1.0"/>
<polyline points="215.25,198.75 225.25,198.75 225.25,201.6 226.5,201.6 266.25,201.6 266.9,207.5 279.4,207.5 279.7,218.1 297.2,218.1 297.2,240.3 303.4,240.3 303.4,262.75 312.5,262.75" fill="none" stroke="#6aad46" stroke-width="1.2" stroke-linejoin="round" stroke-linecap="butt"/>
<polyline points="215.25,198.75 215.25,201.25 216.5,201.25 216.5,203.97 217.13,203.97 217.13,206.68 217.77,206.68 217.77,209.4 218.4,209.4 218.4,211.9 220.25,211.9 220.25,214.4 220.88,214.4 220.88,216.9 221.5,216.9 224.6,217.5 225.25,220 230.9,220 231.5,222.75 234,223.1 234,225.3 234.62,225.3 234.62,227.5 235.25,227.5 235.25,231.25 237.1,231.25 237.1,233.1 239.6,233.1 239.6,235.25 240.9,235.25 260.4,235.25 260.6,241.9 263.75,241.9 263.75,249.4 265,249.4 265,256.6 289,256.6 289,285.6" fill="none" stroke="#2f4e8c" stroke-width="1.35" stroke-linejoin="round" stroke-linecap="butt"/>
<line x1="218" y1="197.15" x2="218" y2="200.35" stroke="#6aad46" stroke-width="1.0"/>
<line x1="221" y1="197.15" x2="221" y2="200.35" stroke="#6aad46" stroke-width="1.0"/>
<line x1="224" y1="197.15" x2="224" y2="200.35" stroke="#6aad46" stroke-width="1.0"/>
<line x1="231.5" y1="200" x2="231.5" y2="203.2" stroke="#6aad46" stroke-width="1.0"/>
<line x1="234" y1="200" x2="234" y2="203.2" stroke="#6aad46" stroke-width="1.0"/>
<line x1="238" y1="200" x2="238" y2="203.2" stroke="#6aad46" stroke-width="1.0"/>
<line x1="242" y1="200" x2="242" y2="203.2" stroke="#6aad46" stroke-width="1.0"/>
<line x1="247" y1="200" x2="247" y2="203.2" stroke="#6aad46" stroke-width="1.0"/>
<line x1="252" y1="200" x2="252" y2="203.2" stroke="#6aad46" stroke-width="1.0"/>
<line x1="255" y1="200" x2="255" y2="203.2" stroke="#6aad46" stroke-width="1.0"/>
<line x1="256.5" y1="200" x2="256.5" y2="203.2" stroke="#6aad46" stroke-width="1.0"/>
<line x1="262.5" y1="200" x2="262.5" y2="203.2" stroke="#6aad46" stroke-width="1.0"/>
<line x1="264" y1="200" x2="264" y2="203.2" stroke="#6aad46" stroke-width="1.0"/>
<line x1="268" y1="205.9" x2="268" y2="209.1" stroke="#6aad46" stroke-width="1.0"/>
<line x1="272" y1="205.9" x2="272" y2="209.1" stroke="#6aad46" stroke-width="1.0"/>
<line x1="274.5" y1="205.9" x2="274.5" y2="209.1" stroke="#6aad46" stroke-width="1.0"/>
<line x1="280.5" y1="216.5" x2="280.5" y2="219.7" stroke="#6aad46" stroke-width="1.0"/>
<line x1="287.5" y1="216.5" x2="287.5" y2="219.7" stroke="#6aad46" stroke-width="1.0"/>
<line x1="291.5" y1="216.5" x2="291.5" y2="219.7" stroke="#6aad46" stroke-width="1.0"/>
<line x1="312.5" y1="261.15" x2="312.5" y2="264.35" stroke="#6aad46" stroke-width="1.0"/>
<line x1="215.5" y1="197.4" x2="215.5" y2="200.6" stroke="#2f4e8c" stroke-width="1.0"/>
<line x1="217" y1="201.4" x2="217" y2="204.6" stroke="#2f4e8c" stroke-width="1.0"/>
<line x1="220" y1="209.4" x2="220" y2="212.6" stroke="#2f4e8c" stroke-width="1.0"/>
<line x1="222" y1="214.4" x2="222" y2="217.6" stroke="#2f4e8c" stroke-width="1.0"/>
<line x1="225" y1="217.4" x2="225" y2="220.6" stroke="#2f4e8c" stroke-width="1.0"/>
<line x1="232" y1="220.9" x2="232" y2="224.1" stroke="#2f4e8c" stroke-width="1.0"/>
<line x1="236" y1="227.4" x2="236" y2="230.6" stroke="#2f4e8c" stroke-width="1.0"/>
<line x1="238" y1="230.4" x2="238" y2="233.6" stroke="#2f4e8c" stroke-width="1.0"/>
<line x1="246" y1="233.65" x2="246" y2="236.85" stroke="#2f4e8c" stroke-width="1.0"/>
<line x1="249" y1="233.65" x2="249" y2="236.85" stroke="#2f4e8c" stroke-width="1.0"/>
<line x1="253" y1="233.65" x2="253" y2="236.85" stroke="#2f4e8c" stroke-width="1.0"/>
<line x1="254.5" y1="233.65" x2="254.5" y2="236.85" stroke="#2f4e8c" stroke-width="1.0"/>
<line x1="258" y1="233.65" x2="258" y2="236.85" stroke="#2f4e8c" stroke-width="1.0"/>
<line x1="270.5" y1="255" x2="270.5" y2="258.2" stroke="#2f4e8c" stroke-width="1.0"/>
<line x1="277" y1="255" x2="277" y2="258.2" stroke="#2f4e8c" stroke-width="1.0"/>
<polyline points="398.25,196.9 402,196.9 402,199.4 402.62,199.4 402.62,201.9 403.25,201.9 404.5,202.5 420.75,202.5 420.75,204.4 423.25,204.4 423.25,206.25 425.75,206.25 425.75,208.75 427,208.75 427.6,212.5 442,212.5 442,215 442.95,215 442.95,217.5 443.9,217.5 444.5,223.1 474.6,223.1 474.6,244 490.6,244" fill="none" stroke="#6aad46" stroke-width="1.2" stroke-linejoin="round" stroke-linecap="butt"/>
<polyline points="393.25,197.25 399.7,197.25 399.9,204.4 414.4,204.4 414.5,211 422.2,211 422.2,227.5 437.4,227.5 437.5,247.25 441.25,247.25" fill="none" stroke="#2f4e8c" stroke-width="1.35" stroke-linejoin="round" stroke-linecap="butt"/>
<line x1="400" y1="195.3" x2="400" y2="198.5" stroke="#6aad46" stroke-width="1.0"/>
<line x1="402" y1="196.4" x2="402" y2="199.6" stroke="#6aad46" stroke-width="1.0"/>
<line x1="409" y1="200.9" x2="409" y2="204.1" stroke="#6aad46" stroke-width="1.0"/>
<line x1="416.5" y1="200.9" x2="416.5" y2="204.1" stroke="#6aad46" stroke-width="1.0"/>
<line x1="418.5" y1="200.9" x2="418.5" y2="204.1" stroke="#6aad46" stroke-width="1.0"/>
<line x1="420" y1="200.9" x2="420" y2="204.1" stroke="#6aad46" stroke-width="1.0"/>
<line x1="424" y1="203.4" x2="424" y2="206.6" stroke="#6aad46" stroke-width="1.0"/>
<line x1="425" y1="204.4" x2="425" y2="207.6" stroke="#6aad46" stroke-width="1.0"/>
<line x1="426.5" y1="205.9" x2="426.5" y2="209.1" stroke="#6aad46" stroke-width="1.0"/>
<line x1="431" y1="210.9" x2="431" y2="214.1" stroke="#6aad46" stroke-width="1.0"/>
<line x1="433" y1="210.9" x2="433" y2="214.1" stroke="#6aad46" stroke-width="1.0"/>
<line x1="434.5" y1="210.9" x2="434.5" y2="214.1" stroke="#6aad46" stroke-width="1.0"/>
<line x1="437" y1="210.9" x2="437" y2="214.1" stroke="#6aad46" stroke-width="1.0"/>
<line x1="441" y1="210.9" x2="441" y2="214.1" stroke="#6aad46" stroke-width="1.0"/>
<line x1="443.5" y1="214.4" x2="443.5" y2="217.6" stroke="#6aad46" stroke-width="1.0"/>
<line x1="448" y1="221.5" x2="448" y2="224.7" stroke="#6aad46" stroke-width="1.0"/>
<line x1="451.5" y1="221.5" x2="451.5" y2="224.7" stroke="#6aad46" stroke-width="1.0"/>
<line x1="454" y1="221.5" x2="454" y2="224.7" stroke="#6aad46" stroke-width="1.0"/>
<line x1="465" y1="221.5" x2="465" y2="224.7" stroke="#6aad46" stroke-width="1.0"/>
<line x1="480.6" y1="242.4" x2="480.6" y2="245.6" stroke="#6aad46" stroke-width="1.0"/>
<line x1="490.6" y1="242.4" x2="490.6" y2="245.6" stroke="#6aad46" stroke-width="1.0"/>
<line x1="396.5" y1="195.65" x2="396.5" y2="198.85" stroke="#2f4e8c" stroke-width="1.0"/>
<line x1="416.5" y1="209.4" x2="416.5" y2="212.6" stroke="#2f4e8c" stroke-width="1.0"/>
<line x1="422.2" y1="216.4" x2="422.2" y2="219.6" stroke="#2f4e8c" stroke-width="1.0"/>
<line x1="433.5" y1="225.9" x2="433.5" y2="229.1" stroke="#2f4e8c" stroke-width="1.0"/>
<line x1="436.5" y1="225.9" x2="436.5" y2="229.1" stroke="#2f4e8c" stroke-width="1.0"/>
<line x1="441.25" y1="245.65" x2="441.25" y2="248.85" stroke="#2f4e8c" stroke-width="1.0"/>
<polyline points="50.25,350.5 50.25,352.4 52.75,352.4 52.75,353.6 55.25,353.6 59,353.6 59,356.75 61.5,356.75 67.75,356.75 67.75,358 70.25,358 70.25,359 72.75,359 72.75,361.5 76.5,361.5 95,361.5 96.9,361.9 96.9,365 98.75,365 98.75,368.75 100.6,368.75 100.6,372.25 102.5,372.25 113.9,372.25 114,381.4 131,381.4 131,399.4 138.2,399.4 138.2,418.1 147,418.1" fill="none" stroke="#6aad46" stroke-width="1.2" stroke-linejoin="round" stroke-linecap="butt"/>
<polyline points="50.25,350.5 50.25,353.62 51.5,353.62 51.5,356.75 52.75,356.75 52.75,359.25 56.5,359.25 56.5,361.43 59.62,361.43 59.62,363.6 62.75,363.6 62.75,366.75 65.88,366.75 65.88,369.9 69,369.9 69,372.07 70.88,372.07 70.88,374.25 72.75,374.25 72.75,377.4 76.5,377.4 76.5,380.5 79.6,380.5 79.6,383.3 80.25,383.3 80.25,386.1 80.9,386.1 80.9,387.75 84,387.75 94,387.75 94,390 94.42,390 94.42,392.25 94.83,392.25 94.83,394.5 95.25,394.5 95.25,395.5 97.75,395.5 101.5,395.5 102.2,402 106.25,402.5 106.6,413.3 123.7,413.3 123.7,424.5 136.9,424.5" fill="none" stroke="#2f4e8c" stroke-width="1.35" stroke-linejoin="round" stroke-linecap="butt"/>
<polyline points="50.25,350.5 50.25,353.42 50.67,353.42 50.67,356.33 51.08,356.33 51.08,359.25 51.5,359.25 51.5,362.17 51.92,362.17 51.92,365.08 52.33,365.08 52.33,368 52.75,368 52.75,370.5 53.38,370.5 53.38,373 54,373 54.6,380.5 54.6,382.7 55.25,382.7 55.25,384.9 55.9,384.9 59.6,385.5 60.25,393 60.25,400.5 74,400.5 74,405.5 79,405.5 79,408 79.62,408 79.62,410.5 80.25,410.5 80.25,412.75 80.78,412.75 80.78,415 81.3,415 81.3,417.7 82.7,417.7 83,423.75 84.4,424.4 84.4,430.5 97.5,430.5 97.5,436.5" fill="none" stroke="#b8173f" stroke-width="1.35" stroke-linejoin="round" stroke-linecap="butt"/>
<line x1="53" y1="351.4" x2="53" y2="354.6" stroke="#6aad46" stroke-width="1.0"/>
<line x1="56" y1="352" x2="56" y2="355.2" stroke="#6aad46" stroke-width="1.0"/>
<line x1="59" y1="352" x2="59" y2="355.2" stroke="#6aad46" stroke-width="1.0"/>
<line x1="66.5" y1="355.15" x2="66.5" y2="358.35" stroke="#6aad46" stroke-width="1.0"/>
<line x1="72" y1="357.4" x2="72" y2="360.6" stroke="#6aad46" stroke-width="1.0"/>
<line x1="82" y1="359.9" x2="82" y2="363.1" stroke="#6aad46" stroke-width="1.0"/>
<line x1="83" y1="359.9" x2="83" y2="363.1" stroke="#6aad46" stroke-width="1.0"/>
<line x1="87" y1="359.9" x2="87" y2="363.1" stroke="#6aad46" stroke-width="1.0"/>
<line x1="90" y1="359.9" x2="90" y2="363.1" stroke="#6aad46" stroke-width="1.0"/>
<line x1="91.5" y1="359.9" x2="91.5" y2="363.1" stroke="#6aad46" stroke-width="1.0"/>
<line x1="99.5" y1="365.4" x2="99.5" y2="368.6" stroke="#6aad46" stroke-width="1.0"/>
<line x1="103.5" y1="370.65" x2="103.5" y2="373.85" stroke="#6aad46" stroke-width="1.0"/>
<line x1="107.5" y1="370.65" x2="107.5" y2="373.85" stroke="#6aad46" stroke-width="1.0"/>
<line x1="110" y1="370.65" x2="110" y2="373.85" stroke="#6aad46" stroke-width="1.0"/>
<line x1="114" y1="379.8" x2="114" y2="383" stroke="#6aad46" stroke-width="1.0"/>
<line x1="121" y1="379.8" x2="121" y2="383" stroke="#6aad46" stroke-width="1.0"/>
<line x1="124.5" y1="379.8" x2="124.5" y2="383" stroke="#6aad46" stroke-width="1.0"/>
<line x1="147" y1="416.5" x2="147" y2="419.7" stroke="#6aad46" stroke-width="1.0"/>
<line x1="58" y1="358.4" x2="58" y2="361.6" stroke="#2f4e8c" stroke-width="1.0"/>
<line x1="61" y1="360.9" x2="61" y2="364.1" stroke="#2f4e8c" stroke-width="1.0"/>
<line x1="64" y1="363.4" x2="64" y2="366.6" stroke="#2f4e8c" stroke-width="1.0"/>
<line x1="67" y1="366.4" x2="67" y2="369.6" stroke="#2f4e8c" stroke-width="1.0"/>
<line x1="71" y1="370.4" x2="71" y2="373.6" stroke="#2f4e8c" stroke-width="1.0"/>
<line x1="74" y1="373.9" x2="74" y2="377.1" stroke="#2f4e8c" stroke-width="1.0"/>
<line x1="78" y1="377.4" x2="78" y2="380.6" stroke="#2f4e8c" stroke-width="1.0"/>
<line x1="82" y1="386.15" x2="82" y2="389.35" stroke="#2f4e8c" stroke-width="1.0"/>
<line x1="86" y1="386.15" x2="86" y2="389.35" stroke="#2f4e8c" stroke-width="1.0"/>
<line x1="89" y1="386.15" x2="89" y2="389.35" stroke="#2f4e8c" stroke-width="1.0"/>
<line x1="91" y1="386.15" x2="91" y2="389.35" stroke="#2f4e8c" stroke-width="1.0"/>
<line x1="100" y1="393.9" x2="100" y2="397.1" stroke="#2f4e8c" stroke-width="1.0"/>
<line x1="102.5" y1="400.4" x2="102.5" y2="403.6" stroke="#2f4e8c" stroke-width="1.0"/>
<line x1="104.5" y1="400.9" x2="104.5" y2="404.1" stroke="#2f4e8c" stroke-width="1.0"/>
<line x1="136.9" y1="422.9" x2="136.9" y2="426.1" stroke="#2f4e8c" stroke-width="1.0"/>
<line x1="51" y1="352.4" x2="51" y2="355.6" stroke="#b8173f" stroke-width="1.0"/>
<line x1="52.3" y1="362.4" x2="52.3" y2="365.6" stroke="#b8173f" stroke-width="1.0"/>
<line x1="53" y1="368.4" x2="53" y2="371.6" stroke="#b8173f" stroke-width="1.0"/>
<line x1="79.8" y1="406.4" x2="79.8" y2="409.6" stroke="#b8173f" stroke-width="1.0"/>
<polyline points="215.25,349 225.25,349 225.25,351.75 226.5,351.75 267.5,351.75 268.1,357.75 280.6,357.75 280.6,369.25 298.1,369.25 298.1,391.5 305.6,391.5 305.6,414.4 313.75,414.4" fill="none" stroke="#6aad46" stroke-width="1.2" stroke-linejoin="round" stroke-linecap="butt"/>
<polyline points="215.25,349 215.25,352.4 216.5,352.4 216.5,354.57 217.45,354.57 217.45,356.75 218.4,356.75 224.6,356.75 225.25,361.75 235.25,361.75 235.9,366.75 239.6,366.75 240.25,372.4 264.5,372.4 264.5,385.5 266,385.5 266,397.5 279.4,397.5" fill="none" stroke="#2f4e8c" stroke-width="1.35" stroke-linejoin="round" stroke-linecap="butt"/>
<polyline points="216.5,349 216.5,351 217.12,351 217.12,353 217.75,353 217.75,355.92 218.17,355.92 218.17,358.83 218.58,358.83 218.58,361.75 219,361.75 219.6,369.9 221.5,370.5 221.5,378 221.5,379.25 222.75,379.25 222.75,384.9 231.5,385.5 231.5,393 234.6,393 235.25,400.5 236.75,400.5 237.1,407.4 260.75,407.4 260.75,421.8 290,421.8 290,436.25" fill="none" stroke="#b8173f" stroke-width="1.35" stroke-linejoin="round" stroke-linecap="butt"/>
<line x1="218" y1="347.4" x2="218" y2="350.6" stroke="#6aad46" stroke-width="1.0"/>
<line x1="220.5" y1="347.4" x2="220.5" y2="350.6" stroke="#6aad46" stroke-width="1.0"/>
<line x1="222.5" y1="347.4" x2="222.5" y2="350.6" stroke="#6aad46" stroke-width="1.0"/>
<line x1="224" y1="347.4" x2="224" y2="350.6" stroke="#6aad46" stroke-width="1.0"/>
<line x1="231.5" y1="350.15" x2="231.5" y2="353.35" stroke="#6aad46" stroke-width="1.0"/>
<line x1="238" y1="350.15" x2="238" y2="353.35" stroke="#6aad46" stroke-width="1.0"/>
<line x1="242.5" y1="350.15" x2="242.5" y2="353.35" stroke="#6aad46" stroke-width="1.0"/>
<line x1="247" y1="350.15" x2="247" y2="353.35" stroke="#6aad46" stroke-width="1.0"/>
<line x1="251.5" y1="350.15" x2="251.5" y2="353.35" stroke="#6aad46" stroke-width="1.0"/>
<line x1="256.5" y1="350.15" x2="256.5" y2="353.35" stroke="#6aad46" stroke-width="1.0"/>
<line x1="258" y1="350.15" x2="258" y2="353.35" stroke="#6aad46" stroke-width="1.0"/>
<line x1="263" y1="350.15" x2="263" y2="353.35" stroke="#6aad46" stroke-width="1.0"/>
<line x1="264.5" y1="350.15" x2="264.5" y2="353.35" stroke="#6aad46" stroke-width="1.0"/>
<line x1="266.5" y1="350.15" x2="266.5" y2="353.35" stroke="#6aad46" stroke-width="1.0"/>
<line x1="262" y1="350.15" x2="262" y2="353.35" stroke="#6aad46" stroke-width="1.0"/>
<line x1="269" y1="356.15" x2="269" y2="359.35" stroke="#6aad46" stroke-width="1.0"/>
<line x1="274" y1="356.15" x2="274" y2="359.35" stroke="#6aad46" stroke-width="1.0"/>
<line x1="277.5" y1="356.15" x2="277.5" y2="359.35" stroke="#6aad46" stroke-width="1.0"/>
<line x1="281" y1="367.65" x2="281" y2="370.85" stroke="#6aad46" stroke-width="1.0"/>
<line x1="288" y1="367.65" x2="288" y2="370.85" stroke="#6aad46" stroke-width="1.0"/>
<line x1="291.5" y1="367.65" x2="291.5" y2="370.85" stroke="#6aad46" stroke-width="1.0"/>
<line x1="313.75" y1="412.8" x2="313.75" y2="416" stroke="#6aad46" stroke-width="1.0"/>
<line x1="215.5" y1="347.9" x2="215.5" y2="351.1" stroke="#2f4e8c" stroke-width="1.0"/>
<line x1="216" y1="353.4" x2="216" y2="356.6" stroke="#2f4e8c" stroke-width="1.0"/>
<line x1="220.5" y1="355.15" x2="220.5" y2="358.35" stroke="#2f4e8c" stroke-width="1.0"/>
<line x1="222.5" y1="355.15" x2="222.5" y2="358.35" stroke="#2f4e8c" stroke-width="1.0"/>
<line x1="237.5" y1="365.15" x2="237.5" y2="368.35" stroke="#2f4e8c" stroke-width="1.0"/>
<line x1="246" y1="370.8" x2="246" y2="374" stroke="#2f4e8c" stroke-width="1.0"/>
<line x1="248.5" y1="370.8" x2="248.5" y2="374" stroke="#2f4e8c" stroke-width="1.0"/>
<line x1="252" y1="370.8" x2="252" y2="374" stroke="#2f4e8c" stroke-width="1.0"/>
<line x1="253.5" y1="370.8" x2="253.5" y2="374" stroke="#2f4e8c" stroke-width="1.0"/>
<line x1="258" y1="370.8" x2="258" y2="374" stroke="#2f4e8c" stroke-width="1.0"/>
<line x1="271.5" y1="395.9" x2="271.5" y2="399.1" stroke="#2f4e8c" stroke-width="1.0"/>
<line x1="279.4" y1="395.9" x2="279.4" y2="399.1" stroke="#2f4e8c" stroke-width="1.0"/>
<line x1="240.5" y1="405.8" x2="240.5" y2="409" stroke="#b8173f" stroke-width="1.0"/>
<line x1="242" y1="405.8" x2="242" y2="409" stroke="#b8173f" stroke-width="1.0"/>
<polyline points="394.5,349 421.9,349 421.9,351.75 423.1,351.75 423.1,353 426.9,353 426.9,356.9 428.1,356.9 442,356.9 442.5,363.1 490,363.1" fill="none" stroke="#6aad46" stroke-width="1.2" stroke-linejoin="round" stroke-linecap="butt"/>
<polyline points="393.75,349 441.25,349" fill="none" stroke="#2f4e8c" stroke-width="1.35" stroke-linejoin="round" stroke-linecap="butt"/>
<polyline points="393.1,349 402.8,349 402.8,378 426.4,378 426.4,393.1 445,393.1 445,414.75 474.75,414.75 474.75,435" fill="none" stroke="#e5a033" stroke-width="1.6" stroke-linejoin="round" stroke-linecap="butt"/>
<polyline points="399.7,349 399.7,361.75 413.9,361.75 413.9,373.6 422,373.6 422,411.1 437.6,411.1 437.6,436.1" fill="none" stroke="#b8173f" stroke-width="1.35" stroke-linejoin="round" stroke-linecap="butt"/>
<line x1="397" y1="347.4" x2="397" y2="350.6" stroke="#6aad46" stroke-width="1.0"/>
<line x1="399" y1="347.4" x2="399" y2="350.6" stroke="#6aad46" stroke-width="1.0"/>
<line x1="401.5" y1="347.4" x2="401.5" y2="350.6" stroke="#6aad46" stroke-width="1.0"/>
<line x1="407" y1="347.4" x2="407" y2="350.6" stroke="#6aad46" stroke-width="1.0"/>
<line x1="412.5" y1="347.4" x2="412.5" y2="350.6" stroke="#6aad46" stroke-width="1.0"/>
<line x1="419" y1="347.4" x2="419" y2="350.6" stroke="#6aad46" stroke-width="1.0"/>
<line x1="420.5" y1="347.4" x2="420.5" y2="350.6" stroke="#6aad46" stroke-width="1.0"/>
<line x1="424.5" y1="351.4" x2="424.5" y2="354.6" stroke="#6aad46" stroke-width="1.0"/>
<line x1="429" y1="355.3" x2="429" y2="358.5" stroke="#6aad46" stroke-width="1.0"/>
<line x1="432" y1="355.3" x2="432" y2="358.5" stroke="#6aad46" stroke-width="1.0"/>
<line x1="434.5" y1="355.3" x2="434.5" y2="358.5" stroke="#6aad46" stroke-width="1.0"/>
<line x1="437" y1="355.3" x2="437" y2="358.5" stroke="#6aad46" stroke-width="1.0"/>
<line x1="440" y1="355.3" x2="440" y2="358.5" stroke="#6aad46" stroke-width="1.0"/>
<line x1="444" y1="361.5" x2="444" y2="364.7" stroke="#6aad46" stroke-width="1.0"/>
<line x1="446" y1="361.5" x2="446" y2="364.7" stroke="#6aad46" stroke-width="1.0"/>
<line x1="448" y1="361.5" x2="448" y2="364.7" stroke="#6aad46" stroke-width="1.0"/>
<line x1="452" y1="361.5" x2="452" y2="364.7" stroke="#6aad46" stroke-width="1.0"/>
<line x1="454.5" y1="361.5" x2="454.5" y2="364.7" stroke="#6aad46" stroke-width="1.0"/>
<line x1="465" y1="361.5" x2="465" y2="364.7" stroke="#6aad46" stroke-width="1.0"/>
<line x1="480.6" y1="361.5" x2="480.6" y2="364.7" stroke="#6aad46" stroke-width="1.0"/>
<line x1="490" y1="361.5" x2="490" y2="364.7" stroke="#6aad46" stroke-width="1.0"/>
<line x1="396" y1="347.4" x2="396" y2="350.6" stroke="#2f4e8c" stroke-width="1.0"/>
<line x1="416.5" y1="347.4" x2="416.5" y2="350.6" stroke="#2f4e8c" stroke-width="1.0"/>
<line x1="433" y1="347.4" x2="433" y2="350.6" stroke="#2f4e8c" stroke-width="1.0"/>
<line x1="436" y1="347.4" x2="436" y2="350.6" stroke="#2f4e8c" stroke-width="1.0"/>
<line x1="438" y1="347.4" x2="438" y2="350.6" stroke="#2f4e8c" stroke-width="1.0"/>
<line x1="440" y1="347.4" x2="440" y2="350.6" stroke="#2f4e8c" stroke-width="1.0"/>
<line x1="441" y1="391.5" x2="441" y2="394.7" stroke="#e5a033" stroke-width="1.0"/>
<line x1="422" y1="392.9" x2="422" y2="396.1" stroke="#e5a033" stroke-width="1.0"/>
<line x1="421.5" y1="384.4" x2="421.5" y2="387.6" stroke="#b8173f" stroke-width="1.0"/>
<text x="84.75" y="49.8" font-size="6.1" fill="#6aad46" fill-opacity="0.9" textLength="45.85" lengthAdjust="spacingAndGlyphs">PB CTPC <tspan font-size="4.9" dy="-2.4">−</tspan><tspan font-size="6.1" dy="2.4"> (n=101)</tspan></text>
<text x="84.75" y="56.3" font-size="6.1" fill="#6aad46" fill-opacity="0.9" textLength="50" lengthAdjust="spacingAndGlyphs">50% PFS: 46 months</text>
<text x="59.4" y="132.2" font-size="6.1" fill="#2f4e8c" fill-opacity="0.9" textLength="44.35" lengthAdjust="spacingAndGlyphs">PB CTPC <tspan font-size="4.9" dy="-2.4">+</tspan><tspan font-size="6.1" dy="2.4"> (n=36)</tspan></text>
<text x="59.4" y="138.8" font-size="6.1" fill="#2f4e8c" fill-opacity="0.9" textLength="46.85" lengthAdjust="spacingAndGlyphs">50% PFS: 9 months</text>
<text x="267.75" y="50.05" font-size="6.1" fill="#6aad46" fill-opacity="0.9" textLength="42.85" lengthAdjust="spacingAndGlyphs">PB CTPC <tspan font-size="4.9" dy="-2.4">−</tspan><tspan font-size="6.1" dy="2.4"> (n=59)</tspan></text>
<text x="267.75" y="56.7" font-size="6.1" fill="#6aad46" fill-opacity="0.9" textLength="50" lengthAdjust="spacingAndGlyphs">50% PFS: 46 months</text>
<text x="233.75" y="132.2" font-size="6.1" fill="#2f4e8c" fill-opacity="0.9" textLength="44.35" lengthAdjust="spacingAndGlyphs">PB CTPC <tspan font-size="4.9" dy="-2.4">+</tspan><tspan font-size="6.1" dy="2.4"> (n=12)</tspan></text>
<text x="233.75" y="138.8" font-size="6.1" fill="#2f4e8c" fill-opacity="0.9" textLength="46.85" lengthAdjust="spacingAndGlyphs">50% PFS: 9 months</text>
<text x="448" y="50" font-size="6.1" fill="#6aad46" fill-opacity="0.9" textLength="64.3" lengthAdjust="spacingAndGlyphs">PB CTPC <tspan font-size="4.9" dy="-2.4">−/−</tspan><tspan font-size="6.1" dy="2.4"> or </tspan><tspan font-size="4.9" dy="-2.4">+/−</tspan><tspan font-size="6.1" dy="2.4"> (n=41);</tspan></text>
<text x="448" y="56.9" font-size="6.1" fill="#6aad46" fill-opacity="0.9" textLength="32.3" lengthAdjust="spacingAndGlyphs">50% PFS: NR</text>
<text x="398.9" y="131.1" font-size="6.1" fill="#2f4e8c" fill-opacity="0.9" textLength="67.7" lengthAdjust="spacingAndGlyphs">PB CTPC <tspan font-size="4.9" dy="-2.4">+/+</tspan><tspan font-size="6.1" dy="2.4"> or </tspan><tspan font-size="4.9" dy="-2.4">−/+</tspan><tspan font-size="6.1" dy="2.4"> (n=13);</tspan></text>
<text x="398.9" y="137.5" font-size="6.1" fill="#2f4e8c" fill-opacity="0.9" textLength="50.3" lengthAdjust="spacingAndGlyphs">50% PFS: 19 months</text>
<text x="86" y="198.3" font-size="6.1" fill="#6aad46" fill-opacity="0.9" textLength="43.4" lengthAdjust="spacingAndGlyphs">BM MRD <tspan font-size="4.9" dy="-2.4">−</tspan><tspan font-size="6.1" dy="2.4"> (n=46)</tspan></text>
<text x="86" y="204.8" font-size="6.1" fill="#6aad46" fill-opacity="0.9" textLength="50.25" lengthAdjust="spacingAndGlyphs">50% PFS: 46 months</text>
<text x="60" y="264.8" font-size="6.1" fill="#2f4e8c" fill-opacity="0.9" textLength="44.4" lengthAdjust="spacingAndGlyphs">BM MRD <tspan font-size="4.9" dy="-2.4">+</tspan><tspan font-size="6.1" dy="2.4"> (n=91)</tspan></text>
<text x="60" y="271.7" font-size="6.1" fill="#2f4e8c" fill-opacity="0.9" textLength="49.4" lengthAdjust="spacingAndGlyphs">50% PFS: 25 months</text>
<text x="269.75" y="199.2" font-size="6.1" fill="#6aad46" fill-opacity="0.9" textLength="42.15" lengthAdjust="spacingAndGlyphs">BM MRD <tspan font-size="4.9" dy="-2.4">−</tspan><tspan font-size="6.1" dy="2.4"> (n=36)</tspan></text>
<text x="269.75" y="205.4" font-size="6.1" fill="#6aad46" fill-opacity="0.9" textLength="49" lengthAdjust="spacingAndGlyphs">50% PFS: 50 months</text>
<text x="228.1" y="263.8" font-size="6.1" fill="#2f4e8c" fill-opacity="0.9" textLength="45" lengthAdjust="spacingAndGlyphs">BM MRD <tspan font-size="4.9" dy="-2.4">+</tspan><tspan font-size="6.1" dy="2.4"> (n=35)</tspan></text>
<text x="228.1" y="270.4" font-size="6.1" fill="#2f4e8c" fill-opacity="0.9" textLength="50" lengthAdjust="spacingAndGlyphs">50% PFS: 25 months</text>
<text x="449.75" y="199.2" font-size="6.1" fill="#6aad46" fill-opacity="0.9" textLength="46.5" lengthAdjust="spacingAndGlyphs">sIF <tspan font-size="4.9" dy="-2.4">−/−</tspan><tspan font-size="6.1" dy="2.4"> or </tspan><tspan font-size="4.9" dy="-2.4">+/−</tspan><tspan font-size="6.1" dy="2.4"> (n=40)</tspan></text>
<text x="449.75" y="205.8" font-size="6.1" fill="#6aad46" fill-opacity="0.9" textLength="50.25" lengthAdjust="spacingAndGlyphs">50% PFS: 46 months</text>
<text x="416.25" y="264.8" font-size="6.1" fill="#2f4e8c" fill-opacity="0.9" textLength="50.65" lengthAdjust="spacingAndGlyphs">sIF <tspan font-size="4.9" dy="-2.4">+/+</tspan><tspan font-size="6.1" dy="2.4"> or </tspan><tspan font-size="4.9" dy="-2.4">−/+</tspan><tspan font-size="6.1" dy="2.4"> (n=14)</tspan></text>
<text x="416.25" y="271.05" font-size="6.1" fill="#2f4e8c" fill-opacity="0.9" textLength="50" lengthAdjust="spacingAndGlyphs">50% PFS: 25 months</text>
<text x="77.4" y="351.1" font-size="6.1" fill="#6aad46" fill-opacity="0.9" textLength="63.7" lengthAdjust="spacingAndGlyphs">Score 0: sIF <tspan font-size="4.9" dy="-2.4">−</tspan><tspan font-size="6.1" dy="2.4"> &amp; PB CTPC </tspan><tspan font-size="4.9" dy="-2.4">−</tspan></text>
<text x="77.4" y="356.9" font-size="6.1" fill="#6aad46" fill-opacity="0.9" textLength="68.8" lengthAdjust="spacingAndGlyphs">(n=60); 50% PFS: 46 months</text>
<text x="107" y="390.6" font-size="6.1" fill="#2f4e8c" fill-opacity="0.9" textLength="37.4" lengthAdjust="spacingAndGlyphs">Score 1: sIF<tspan font-size="4.9" dy="-2.4">+</tspan><tspan font-size="6.1" dy="2.4"> or</tspan></text>
<text x="108.75" y="396.4" font-size="6.1" fill="#2f4e8c" fill-opacity="0.9" textLength="57.25" lengthAdjust="spacingAndGlyphs">PB CTPC<tspan font-size="4.9" dy="-2.4">+</tspan><tspan font-size="6.1" dy="2.4"> (n=56); 50%</tspan></text>
<text x="108.75" y="403.2" font-size="6.1" fill="#2f4e8c" fill-opacity="0.9" textLength="38.35" lengthAdjust="spacingAndGlyphs">PFS: 26 months</text>
<text x="99" y="433.5" font-size="6.1" fill="#b8173f" fill-opacity="0.9" textLength="63.8" lengthAdjust="spacingAndGlyphs">Score 2: sIF<tspan font-size="4.9" dy="-2.4">+</tspan><tspan font-size="6.1" dy="2.4"> &amp; PB CTPC</tspan><tspan font-size="4.9" dy="-2.4">+</tspan></text>
<text x="99" y="440.3" font-size="6.1" fill="#b8173f" fill-opacity="0.9" textLength="65.3" lengthAdjust="spacingAndGlyphs">(n=21); 50% PFS: 5 months</text>
<text x="281.8" y="349.5" font-size="6.1" fill="#6aad46" fill-opacity="0.9" textLength="61.5" lengthAdjust="spacingAndGlyphs">Score 0: BM MRD <tspan font-size="4.9" dy="-2.4">−</tspan><tspan font-size="6.1" dy="2.4"> &amp; PB</tspan></text>
<text x="281.8" y="355.8" font-size="6.1" fill="#6aad46" fill-opacity="0.9" textLength="48" lengthAdjust="spacingAndGlyphs">CTPC <tspan font-size="4.9" dy="-2.4">−</tspan><tspan font-size="6.1" dy="2.4"> (n=36); 50%</tspan></text>
<text x="281.8" y="362.1" font-size="6.1" fill="#6aad46" fill-opacity="0.9" textLength="37.9" lengthAdjust="spacingAndGlyphs">PFS: 50 months</text>
<text x="262.3" y="406.3" font-size="6.1" fill="#2f4e8c" fill-opacity="0.9" textLength="81.3" lengthAdjust="spacingAndGlyphs">Score 1: BM MRD<tspan font-size="4.9" dy="-2.4">+</tspan><tspan font-size="6.1" dy="2.4"> or PB CTPC</tspan><tspan font-size="4.9" dy="-2.4">+</tspan></text>
<text x="262.3" y="412.8" font-size="6.1" fill="#2f4e8c" fill-opacity="0.9" textLength="68.4" lengthAdjust="spacingAndGlyphs">(n=23); 50% PFS: 28 months</text>
<text x="212" y="428.1" font-size="6.1" fill="#b8173f" fill-opacity="0.9" textLength="51.9" lengthAdjust="spacingAndGlyphs">Score 2: BM MRD<tspan font-size="4.9" dy="-2.4">+</tspan><tspan font-size="6.1" dy="2.4"> &amp;</tspan></text>
<text x="212" y="434.2" font-size="6.1" fill="#b8173f" fill-opacity="0.9" textLength="56.6" lengthAdjust="spacingAndGlyphs">PB CTPC<tspan font-size="4.9" dy="-2.4">+</tspan><tspan font-size="6.1" dy="2.4"> (n=12); 50%</tspan></text>
<text x="212" y="440.5" font-size="6.1" fill="#b8173f" fill-opacity="0.9" textLength="35" lengthAdjust="spacingAndGlyphs">PFS: 9 months</text>
<text x="463.1" y="343.5" font-size="6.1" fill="#2f4e8c" fill-opacity="0.9" textLength="45.4" lengthAdjust="spacingAndGlyphs">C: sIF <tspan font-size="4.9" dy="-2.4">+/+</tspan><tspan font-size="6.1" dy="2.4"> or </tspan><tspan font-size="4.9" dy="-2.4">−/+</tspan><tspan font-size="6.1" dy="2.4"> &amp;</tspan></text>
<text x="463.1" y="349.6" font-size="6.1" fill="#2f4e8c" fill-opacity="0.9" textLength="44.6" lengthAdjust="spacingAndGlyphs">PB CTPC <tspan font-size="4.9" dy="-2.4">−/−</tspan><tspan font-size="6.1" dy="2.4"> or </tspan><tspan font-size="4.9" dy="-2.4">+/−</tspan></text>
<text x="463.1" y="356.5" font-size="6.1" fill="#2f4e8c" fill-opacity="0.9" textLength="46.9" lengthAdjust="spacingAndGlyphs">(n=7); 50%PFS: NR</text>
<text x="449.2" y="374.2" font-size="6.1" fill="#6aad46" fill-opacity="0.9" textLength="41.6" lengthAdjust="spacingAndGlyphs">A: sIF <tspan font-size="4.9" dy="-2.4">−/−</tspan><tspan font-size="6.1" dy="2.4"> or </tspan><tspan font-size="4.9" dy="-2.4">+/−</tspan><tspan font-size="6.1" dy="2.4"> &amp;</tspan></text>
<text x="449.2" y="380.4" font-size="6.1" fill="#6aad46" fill-opacity="0.9" textLength="43.8" lengthAdjust="spacingAndGlyphs">PB CTPC <tspan font-size="4.9" dy="-2.4">−/−</tspan><tspan font-size="6.1" dy="2.4"> or </tspan><tspan font-size="4.9" dy="-2.4">+/−</tspan></text>
<text x="449.2" y="387.3" font-size="6.1" fill="#6aad46" fill-opacity="0.9" textLength="48.5" lengthAdjust="spacingAndGlyphs">(n=34); 50%PFS: NR</text>
<text x="449.5" y="396.8" font-size="6.1" fill="#e5a033" fill-opacity="0.9" textLength="40.5" lengthAdjust="spacingAndGlyphs">B: sIF <tspan font-size="4.9" dy="-2.4">−/−</tspan><tspan font-size="6.1" dy="2.4"> or </tspan><tspan font-size="4.9" dy="-2.4">+/−</tspan><tspan font-size="6.1" dy="2.4"> &amp;</tspan></text>
<text x="449.5" y="403.4" font-size="6.1" fill="#e5a033" fill-opacity="0.9" textLength="47.5" lengthAdjust="spacingAndGlyphs">PB CTPC <tspan font-size="4.9" dy="-2.4">+/+</tspan><tspan font-size="6.1" dy="2.4"> or </tspan><tspan font-size="4.9" dy="-2.4">−/+</tspan></text>
<text x="449.5" y="410.3" font-size="6.1" fill="#e5a033" fill-opacity="0.9" textLength="64.3" lengthAdjust="spacingAndGlyphs">(n=6); 50%PFS: 19 months</text>
<text x="443.8" y="425.7" font-size="6.1" fill="#b8173f" fill-opacity="0.9" textLength="45.4" lengthAdjust="spacingAndGlyphs">D: sIF <tspan font-size="4.9" dy="-2.4">+/+</tspan><tspan font-size="6.1" dy="2.4"> or </tspan><tspan font-size="4.9" dy="-2.4">−/+</tspan><tspan font-size="6.1" dy="2.4"> &amp;</tspan></text>
<text x="443.8" y="431.1" font-size="6.1" fill="#b8173f" fill-opacity="0.9" textLength="48.5" lengthAdjust="spacingAndGlyphs">PB CTPC <tspan font-size="4.9" dy="-2.4">+/+</tspan><tspan font-size="6.1" dy="2.4"> or </tspan><tspan font-size="4.9" dy="-2.4">−/+</tspan></text>
<text x="443.8" y="438.8" font-size="6.1" fill="#b8173f" fill-opacity="0.9" textLength="64.7" lengthAdjust="spacingAndGlyphs">(n=7); 50%PFS: 16 months</text>
<text x="137.1" y="138.1" font-size="5.8" fill="#2a2a2a" textLength="24.9" lengthAdjust="spacingAndGlyphs"><tspan font-style="italic">p</tspan>&lt; 0.0001</text>
<text x="303.6" y="138.1" font-size="5.8" fill="#2a2a2a" textLength="24.5" lengthAdjust="spacingAndGlyphs"><tspan font-style="italic">p</tspan>&lt; 0.0001</text>
<text x="482.9" y="139.1" font-size="5.8" fill="#2a2a2a" textLength="24.6" lengthAdjust="spacingAndGlyphs"><tspan font-style="italic">p</tspan>&lt; 0.0001</text>
<text x="136.9" y="287.5" font-size="5.8" fill="#2a2a2a" textLength="24.6" lengthAdjust="spacingAndGlyphs"><tspan font-style="italic">p</tspan>&lt; 0.0001</text>
<text x="300.8" y="287.8" font-size="5.8" fill="#2a2a2a" textLength="24.6" lengthAdjust="spacingAndGlyphs"><tspan font-style="italic">p</tspan>&lt; 0.0001</text>
<text x="482.9" y="287.5" font-size="5.8" fill="#2a2a2a" textLength="19.2" lengthAdjust="spacingAndGlyphs"><tspan font-style="italic">p</tspan>= 0.04</text>
<text x="50.9" y="383.85" font-size="5.9" fill="#2a2a2a" textLength="23.1" lengthAdjust="spacingAndGlyphs">p&lt;0.0001</text>
<text x="79.6" y="377.85" font-size="5.9" fill="#2a2a2a" textLength="20" lengthAdjust="spacingAndGlyphs">p=0.007</text>
<text x="79.6" y="409.5" font-size="5.9" fill="#2a2a2a" textLength="19.4" lengthAdjust="spacingAndGlyphs">p=0.004</text>
<text x="224.6" y="381.35" font-size="5.9" fill="#2a2a2a" textLength="23.8" lengthAdjust="spacingAndGlyphs">p&lt;0.0001</text>
<text x="240.25" y="392.6" font-size="5.9" fill="#2a2a2a" textLength="23.15" lengthAdjust="spacingAndGlyphs">p&lt;0.0001</text>
<text x="265.6" y="378.85" font-size="5.9" fill="#2a2a2a" textLength="17.5" lengthAdjust="spacingAndGlyphs">p=0.13</text>
<text x="400.1" y="360.1" font-size="5.9" fill="#2a2a2a" textLength="21.9" lengthAdjust="spacingAndGlyphs">p&lt;0.0001</text>
<text x="423.9" y="376.35" font-size="5.9" fill="#2a2a2a" textLength="21.85" lengthAdjust="spacingAndGlyphs">p&lt;0.0001</text>
<text x="441.9" y="355.2" font-size="5.9" fill="#2a2a2a" textLength="14.35" lengthAdjust="spacingAndGlyphs">p=0.5</text>
<text x="425.75" y="403.85" font-size="5.9" fill="#2a2a2a" textLength="14.35" lengthAdjust="spacingAndGlyphs">p=0.5</text>
</svg></body></html>
